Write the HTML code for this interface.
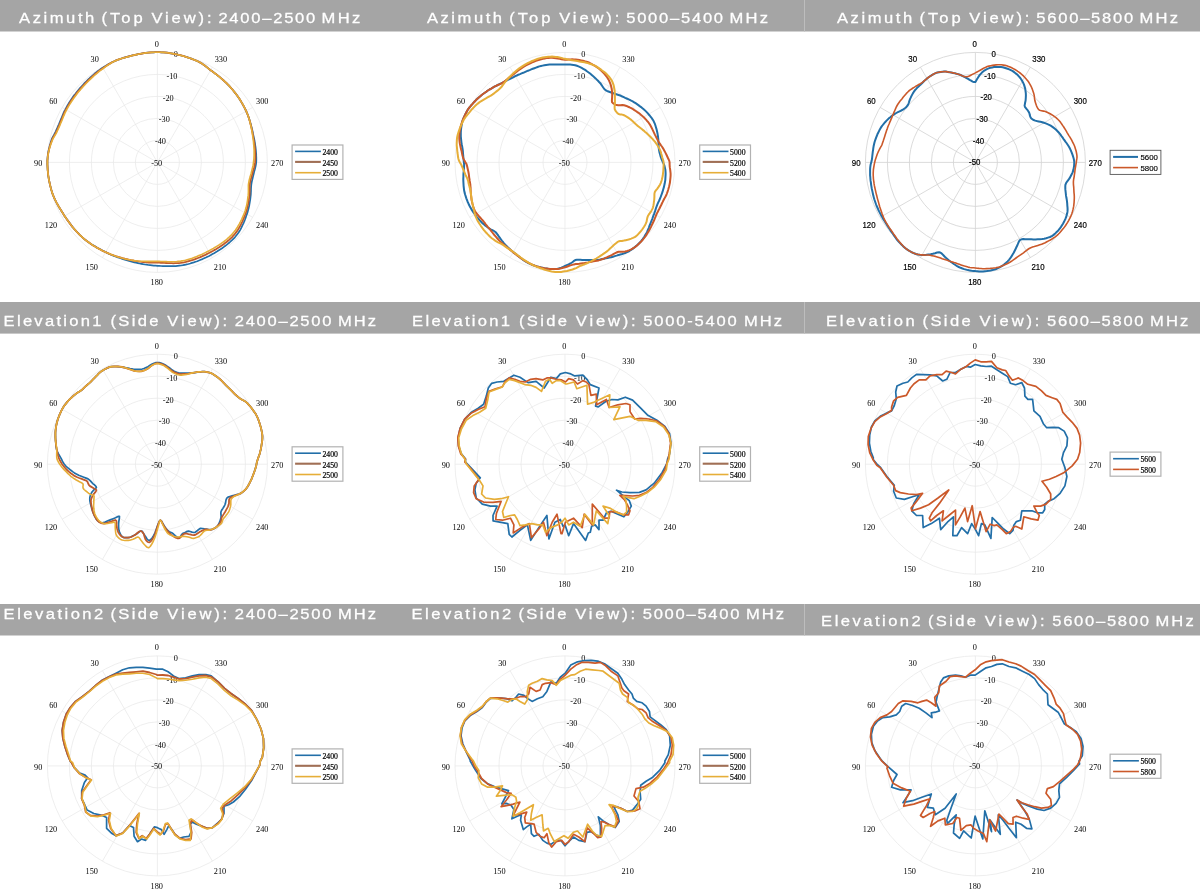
<!DOCTYPE html>
<html lang="en"><head><meta charset="utf-8">
<title>Antenna radiation patterns</title>
<style>html,body{margin:0;padding:0;background:#fff}body{width:1200px;height:892px;overflow:hidden}svg{display:block}#w{will-change:transform;width:1200px;height:892px}</style></head><body><div id="w">
<svg width="1200" height="892" viewBox="0 0 1200 892">
<rect width="1200" height="892" fill="#fff"/>
<rect x="0" y="0" width="1200" height="31.5" fill="#a5a5a5"/>
<rect x="804" y="0" width="1" height="31.5" fill="#bdbdbd"/>
<rect x="0" y="302" width="1200" height="31.6" fill="#a5a5a5"/>
<rect x="804" y="302" width="1" height="31.6" fill="#bdbdbd"/>
<rect x="0" y="604" width="1200" height="31.5" fill="#a5a5a5"/>
<rect x="804" y="604" width="1" height="31.5" fill="#bdbdbd"/>
<g font-family='"Liberation Sans", sans-serif' font-size="14.8" fill="#fff" stroke="#fff" stroke-width="0.28">
<text transform="translate(19.1 23.2) scale(1.12 1)" textLength="67.1" lengthAdjust="spacing">Azimuth</text>
<text transform="translate(101.5 23.2) scale(1.12 1)" textLength="36.8" lengthAdjust="spacing">(Top</text>
<text transform="translate(151.4 23.2) scale(1.12 1)" textLength="53.7" lengthAdjust="spacing">View):</text>
<text transform="translate(218.4 23.2) scale(1.12 1)" textLength="86.5" lengthAdjust="spacing">2400–2500</text>
<text transform="translate(321.6 23.2) scale(1.12 1)" textLength="34.5" lengthAdjust="spacing">MHz</text>
</g>
<g font-family='"Liberation Sans", sans-serif' font-size="14.8" fill="#fff" stroke="#fff" stroke-width="0.28">
<text transform="translate(426.9 23.2) scale(1.12 1)" textLength="67.1" lengthAdjust="spacing">Azimuth</text>
<text transform="translate(509.3 23.2) scale(1.12 1)" textLength="36.8" lengthAdjust="spacing">(Top</text>
<text transform="translate(559.2 23.2) scale(1.12 1)" textLength="53.7" lengthAdjust="spacing">View):</text>
<text transform="translate(626.2 23.2) scale(1.12 1)" textLength="86.5" lengthAdjust="spacing">5000–5400</text>
<text transform="translate(729.4 23.2) scale(1.12 1)" textLength="34.5" lengthAdjust="spacing">MHz</text>
</g>
<g font-family='"Liberation Sans", sans-serif' font-size="14.8" fill="#fff" stroke="#fff" stroke-width="0.28">
<text transform="translate(837 23.2) scale(1.12 1)" textLength="67.1" lengthAdjust="spacing">Azimuth</text>
<text transform="translate(919.4 23.2) scale(1.12 1)" textLength="36.8" lengthAdjust="spacing">(Top</text>
<text transform="translate(969.3 23.2) scale(1.12 1)" textLength="53.7" lengthAdjust="spacing">View):</text>
<text transform="translate(1036.3 23.2) scale(1.12 1)" textLength="86.5" lengthAdjust="spacing">5600–5800</text>
<text transform="translate(1139.5 23.2) scale(1.12 1)" textLength="34.5" lengthAdjust="spacing">MHz</text>
</g>
<g font-family='"Liberation Sans", sans-serif' font-size="14.8" fill="#fff" stroke="#fff" stroke-width="0.28">
<text transform="translate(3.6 326.2) scale(1.12 1)" textLength="87.4" lengthAdjust="spacing">Elevation1</text>
<text transform="translate(110.4 326.2) scale(1.12 1)" textLength="42.9" lengthAdjust="spacing">(Side</text>
<text transform="translate(167.3 326.2) scale(1.12 1)" textLength="53.5" lengthAdjust="spacing">View):</text>
<text transform="translate(234.8 326.2) scale(1.12 1)" textLength="86.2" lengthAdjust="spacing">2400–2500</text>
<text transform="translate(337.9 326.2) scale(1.12 1)" textLength="34.1" lengthAdjust="spacing">MHz</text>
</g>
<g font-family='"Liberation Sans", sans-serif' font-size="14.8" fill="#fff" stroke="#fff" stroke-width="0.28">
<text transform="translate(412.1 326.2) scale(1.12 1)" textLength="87.4" lengthAdjust="spacing">Elevation1</text>
<text transform="translate(519 326.2) scale(1.12 1)" textLength="42.9" lengthAdjust="spacing">(Side</text>
<text transform="translate(575.8 326.2) scale(1.12 1)" textLength="53.5" lengthAdjust="spacing">View):</text>
<text transform="translate(643.3 326.2) scale(1.12 1)" textLength="83.4" lengthAdjust="spacing">5000-5400</text>
<text transform="translate(743.9 326.2) scale(1.12 1)" textLength="34.1" lengthAdjust="spacing">MHz</text>
</g>
<g font-family='"Liberation Sans", sans-serif' font-size="14.8" fill="#fff" stroke="#fff" stroke-width="0.28">
<text transform="translate(826.1 326.2) scale(1.12 1)" textLength="79.1" lengthAdjust="spacing">Elevation</text>
<text transform="translate(922.6 326.2) scale(1.12 1)" textLength="42.9" lengthAdjust="spacing">(Side</text>
<text transform="translate(979.5 326.2) scale(1.12 1)" textLength="53.5" lengthAdjust="spacing">View):</text>
<text transform="translate(1047 326.2) scale(1.12 1)" textLength="86.2" lengthAdjust="spacing">5600–5800</text>
<text transform="translate(1150.1 326.2) scale(1.12 1)" textLength="34.1" lengthAdjust="spacing">MHz</text>
</g>
<g font-family='"Liberation Sans", sans-serif' font-size="14.8" fill="#fff" stroke="#fff" stroke-width="0.28">
<text transform="translate(3.6 618.5) scale(1.12 1)" textLength="89" lengthAdjust="spacing">Elevation2</text>
<text transform="translate(110.4 618.5) scale(1.12 1)" textLength="42.9" lengthAdjust="spacing">(Side</text>
<text transform="translate(167.3 618.5) scale(1.12 1)" textLength="53.5" lengthAdjust="spacing">View):</text>
<text transform="translate(234.8 618.5) scale(1.12 1)" textLength="86.2" lengthAdjust="spacing">2400–2500</text>
<text transform="translate(337.9 618.5) scale(1.12 1)" textLength="34.1" lengthAdjust="spacing">MHz</text>
</g>
<g font-family='"Liberation Sans", sans-serif' font-size="14.8" fill="#fff" stroke="#fff" stroke-width="0.28">
<text transform="translate(411.5 618.5) scale(1.12 1)" textLength="89" lengthAdjust="spacing">Elevation2</text>
<text transform="translate(518.4 618.5) scale(1.12 1)" textLength="42.9" lengthAdjust="spacing">(Side</text>
<text transform="translate(575.2 618.5) scale(1.12 1)" textLength="53.5" lengthAdjust="spacing">View):</text>
<text transform="translate(642.8 618.5) scale(1.12 1)" textLength="86.2" lengthAdjust="spacing">5000–5400</text>
<text transform="translate(745.9 618.5) scale(1.12 1)" textLength="34.1" lengthAdjust="spacing">MHz</text>
</g>
<g font-family='"Liberation Sans", sans-serif' font-size="14.8" fill="#fff" stroke="#fff" stroke-width="0.28">
<text transform="translate(821.1 625.8) scale(1.12 1)" textLength="89" lengthAdjust="spacing">Elevation2</text>
<text transform="translate(928 625.8) scale(1.12 1)" textLength="42.9" lengthAdjust="spacing">(Side</text>
<text transform="translate(984.8 625.8) scale(1.12 1)" textLength="53.5" lengthAdjust="spacing">View):</text>
<text transform="translate(1052.3 625.8) scale(1.12 1)" textLength="86.2" lengthAdjust="spacing">5600–5800</text>
<text transform="translate(1155.5 625.8) scale(1.12 1)" textLength="34.1" lengthAdjust="spacing">MHz</text>
</g>
<g>
<g fill="none" stroke="#e6e6e6" stroke-width="0.7">
<circle cx="157.4" cy="162.4" r="22"/>
<circle cx="157.4" cy="162.4" r="44"/>
<circle cx="157.4" cy="162.4" r="66"/>
<circle cx="157.4" cy="162.4" r="88"/>
<circle cx="157.4" cy="162.4" r="110"/>
<line x1="157.4" y1="52.4" x2="157.4" y2="272.4"/>
<line x1="102.4" y1="67.1" x2="212.4" y2="257.7"/>
<line x1="62.1" y1="107.4" x2="252.7" y2="217.4"/>
<line x1="47.4" y1="162.4" x2="267.4" y2="162.4"/>
<line x1="62.1" y1="217.4" x2="252.7" y2="107.4"/>
<line x1="102.4" y1="257.7" x2="212.4" y2="67.1"/>
</g>
<text transform="translate(156.8 46.9) scale(0.92 1)" text-anchor="middle" font-family='"Liberation Serif", serif' font-size="9.0" fill="#050505">0</text>
<text transform="translate(94.7 62.3) scale(0.92 1)" text-anchor="middle" font-family='"Liberation Serif", serif' font-size="9.0" fill="#050505">30</text>
<text transform="translate(53.3 104) scale(0.92 1)" text-anchor="middle" font-family='"Liberation Serif", serif' font-size="9.0" fill="#050505">60</text>
<text transform="translate(38.2 166.1) scale(0.92 1)" text-anchor="middle" font-family='"Liberation Serif", serif' font-size="9.0" fill="#050505">90</text>
<text transform="translate(51 228.4) scale(0.92 1)" text-anchor="middle" font-family='"Liberation Serif", serif' font-size="9.0" fill="#050505">120</text>
<text transform="translate(91.8 270.2) scale(0.92 1)" text-anchor="middle" font-family='"Liberation Serif", serif' font-size="9.0" fill="#050505">150</text>
<text transform="translate(156.8 285.3) scale(0.92 1)" text-anchor="middle" font-family='"Liberation Serif", serif' font-size="9.0" fill="#050505">180</text>
<text transform="translate(220 270.2) scale(0.92 1)" text-anchor="middle" font-family='"Liberation Serif", serif' font-size="9.0" fill="#050505">210</text>
<text transform="translate(262.3 228.4) scale(0.92 1)" text-anchor="middle" font-family='"Liberation Serif", serif' font-size="9.0" fill="#050505">240</text>
<text transform="translate(277.2 166.1) scale(0.92 1)" text-anchor="middle" font-family='"Liberation Serif", serif' font-size="9.0" fill="#050505">270</text>
<text transform="translate(262.3 104) scale(0.92 1)" text-anchor="middle" font-family='"Liberation Serif", serif' font-size="9.0" fill="#050505">300</text>
<text transform="translate(220.9 62.3) scale(0.92 1)" text-anchor="middle" font-family='"Liberation Serif", serif' font-size="9.0" fill="#050505">330</text>
<text transform="translate(156.7 165.7) scale(0.92 1)" text-anchor="middle" font-family='"Liberation Serif", serif' font-size="9.0" fill="#050505">-50</text>
<text transform="translate(160.5 144) scale(0.92 1)" text-anchor="middle" font-family='"Liberation Serif", serif' font-size="9.0" fill="#050505">-40</text>
<text transform="translate(164.3 122.3) scale(0.92 1)" text-anchor="middle" font-family='"Liberation Serif", serif' font-size="9.0" fill="#050505">-30</text>
<text transform="translate(168.2 100.7) scale(0.92 1)" text-anchor="middle" font-family='"Liberation Serif", serif' font-size="9.0" fill="#050505">-20</text>
<text transform="translate(172 79) scale(0.92 1)" text-anchor="middle" font-family='"Liberation Serif", serif' font-size="9.0" fill="#050505">-10</text>
<text transform="translate(175.8 57.3) scale(0.92 1)" text-anchor="middle" font-family='"Liberation Serif", serif' font-size="9.0" fill="#050505">0</text>
<g fill="none" stroke-linejoin="round">
<path stroke="#226fa8" stroke-width="1.7" d="M157.4 52.2L155.5 52.2L153.6 52.3L151.6 52.4L149.7 52.5L147.8 52.7L145.9 52.9L144 53.2L142.1 53.5L140.2 53.8L138.3 54.2L136.4 54.6L134.6 55L132.7 55.4L130.8 55.9L129 56.4L127.1 56.9L125.3 57.4L123.4 57.9L121.6 58.5L119.8 59.1L118 59.7L116.2 60.4L114.4 61.2L112.7 62L111 62.8L109.3 63.7L107.6 64.7L106 65.7L104.3 66.7L102.7 67.7L101.1 68.8L99.6 69.9L98 71L96.5 72.2L95 73.3L93.6 74.6L92.2 75.8L90.7 77.1L89.4 78.4L88 79.7L86.7 81L85.3 82.4L84 83.7L82.8 85.1L81.5 86.5L80.2 87.9L79 89.3L77.8 90.7L76.6 92.2L75.5 93.7L74.3 95.1L73.2 96.6L72.1 98.2L71.1 99.7L70.1 101.2L69.1 102.8L68.1 104.4L67.2 106L66.3 107.6L65.4 109.3L64.5 110.9L63.7 112.6L63 114.3L62.3 116L61.6 117.7L60.9 119.4L60.2 121.1L59.5 122.8L58.8 124.5L58 126.2L57.3 127.9L56.5 129.6L55.8 131.3L55 133L54.1 134.7L53.1 136.4L52.2 138.1L51.5 139.9L50.9 141.7L50.4 143.5L49.8 145.4L49.4 147.2L48.9 149.1L48.5 151L48.2 152.8L47.9 154.7L47.7 156.7L47.5 158.6L47.4 160.5L47.4 162.4L47.4 164.3L47.5 166.2L47.6 168.2L47.7 170.1L47.9 172L48.1 173.9L48.3 175.8L48.6 177.7L48.9 179.6L49.3 181.5L49.7 183.3L50.1 185.2L50.6 187.1L51 188.9L51.6 190.8L52.1 192.6L52.8 194.4L53.5 196.2L54.2 197.9L55 199.7L55.9 201.4L56.8 203.1L57.7 204.7L58.6 206.4L59.6 208L60.6 209.6L61.6 211.2L62.6 212.8L63.6 214.4L64.6 216L65.6 217.5L66.7 219.1L67.8 220.6L68.9 222.1L70 223.6L71.1 225.1L72.2 226.6L73.4 228L74.6 229.4L75.9 230.8L77.1 232.2L78.4 233.5L79.7 234.8L81.1 236.1L82.4 237.4L83.8 238.6L85.2 239.8L86.7 240.9L88.2 242L89.7 243.1L91.2 244.1L92.8 245.1L94.4 246L96 247L97.5 247.9L99.1 248.8L100.7 249.6L102.4 250.5L104 251.3L105.6 252.1L107.2 252.9L108.8 253.7L110.5 254.5L112.2 255.2L113.8 255.9L115.5 256.5L117.2 257.1L118.9 257.8L120.6 258.3L122.3 258.9L124 259.4L125.7 260L127.4 260.5L129.1 261L130.9 261.4L132.6 261.9L134.3 262.3L136.1 262.7L137.8 263.1L139.6 263.5L141.3 263.8L143.1 264.2L144.9 264.5L146.6 264.7L148.4 265L150.2 265.2L152 265.4L153.8 265.6L155.6 265.7L157.4 265.8L159.2 265.9L161 266L162.8 266.1L164.7 266.1L166.5 266.2L168.3 266.2L170.1 266.2L172 266.2L173.8 266.2L175.7 266.1L177.5 265.9L179.4 265.7L181.2 265.5L183 265.2L184.8 264.8L186.7 264.4L188.5 264L190.2 263.5L192 262.9L193.8 262.4L195.6 261.8L197.3 261.2L199 260.5L200.8 259.8L202.5 259.1L204.2 258.3L205.9 257.5L207.5 256.7L209.2 255.9L210.9 255L212.5 254.1L214.1 253.2L215.7 252.2L217.3 251.3L218.9 250.3L220.5 249.3L222.1 248.2L223.6 247.1L225.1 246L226.6 244.9L228.1 243.7L229.5 242.5L230.9 241.2L232.3 239.9L233.6 238.6L234.9 237.3L236.1 235.8L237.3 234.3L238.4 232.8L239.4 231.2L240.4 229.6L241.3 227.9L242.1 226.2L242.9 224.5L243.7 222.8L244.4 221.1L245.1 219.3L245.7 217.6L246.3 215.8L246.9 214.1L247.5 212.4L248 210.6L248.5 208.8L248.9 207L249.3 205.2L249.6 203.4L249.9 201.7L250.2 199.9L250.4 198.1L250.6 196.3L250.8 194.6L250.9 192.8L251 191L251 189.2L251.1 187.5L251.2 185.8L251.4 184.1L251.7 182.4L252 180.8L252.4 179.2L252.8 177.5L253.2 175.9L253.6 174.2L254 172.6L254.4 170.9L254.9 169.2L255.3 167.5L255.7 165.8L256 164.1L256.2 162.4L256.3 160.7L256.3 158.9L256.3 157.2L256.2 155.5L256.2 153.8L256 152L255.9 150.3L255.7 148.6L255.5 146.9L255.2 145.1L255 143.4L254.7 141.7L254.4 140L254 138.3L253.7 136.6L253.3 134.9L252.9 133.2L252.6 131.5L252.2 129.8L251.8 128.1L251.3 126.3L250.9 124.6L250.4 122.9L249.9 121.2L249.4 119.5L248.8 117.8L248.2 116.1L247.6 114.4L246.9 112.8L246.2 111.1L245.4 109.5L244.6 107.9L243.8 106.3L242.9 104.7L242 103.1L241.1 101.6L240.1 100L239.2 98.5L238.1 97L237.1 95.5L236 94L234.9 92.6L233.8 91.2L232.6 89.7L231.4 88.4L230.2 87L229 85.6L227.7 84.3L226.4 83L225.1 81.8L223.7 80.5L222.3 79.3L220.9 78.1L219.5 76.9L218.1 75.8L216.6 74.6L215.1 73.5L213.7 72.4L212.2 71.3L210.6 70.2L209.1 69.1L207.7 67.9L206.2 66.7L204.7 65.5L203.1 64.4L201.5 63.3L199.9 62.4L198.2 61.5L196.4 60.7L194.7 60L192.9 59.3L191.1 58.6L189.3 58L187.5 57.4L185.7 56.8L183.9 56.2L182 55.7L180.2 55.2L178.3 54.8L176.5 54.3L174.6 54L172.7 53.6L170.8 53.3L168.9 53L167 52.7L165.1 52.5L163.2 52.4L161.2 52.3L159.3 52.2L157.4 52.2Z"/>
<path stroke="#c05a2c" stroke-width="1.8" d="M157.4 52.2L155.5 52.2L153.6 52.3L151.6 52.4L149.7 52.5L147.8 52.7L145.9 52.9L144 53.2L142.1 53.5L140.2 53.8L138.3 54.2L136.4 54.6L134.6 55L132.7 55.4L130.8 55.9L129 56.4L127.1 56.9L125.3 57.4L123.4 57.9L121.6 58.5L119.8 59.1L118 59.7L116.2 60.4L114.4 61.2L112.7 62L111 62.9L109.4 63.9L107.7 64.9L106.1 66L104.5 67L103 68.1L101.4 69.2L99.8 70.3L98.3 71.4L96.8 72.6L95.4 73.8L93.9 75.1L92.5 76.3L91.1 77.6L89.8 78.9L88.4 80.2L87.1 81.5L85.8 82.8L84.5 84.2L83.2 85.6L82 87L80.7 88.3L79.5 89.8L78.3 91.2L77.1 92.6L76 94.1L74.9 95.6L73.8 97L72.7 98.6L71.6 100.1L70.6 101.6L69.6 103.2L68.7 104.8L67.7 106.4L66.8 108L65.9 109.6L65.1 111.2L64.3 112.9L63.6 114.6L62.9 116.3L62.2 118L61.5 119.7L60.8 121.4L60.1 123.1L59.4 124.8L58.7 126.5L57.9 128.1L57.2 129.8L56.4 131.5L55.6 133.2L54.6 134.9L53.7 136.5L52.7 138.2L52 140L51.3 141.8L50.7 143.6L50.1 145.4L49.6 147.2L49.1 149.1L48.7 151L48.3 152.9L48 154.7L47.7 156.7L47.6 158.6L47.4 160.5L47.4 162.4L47.4 164.3L47.5 166.2L47.6 168.2L47.7 170.1L47.9 172L48.1 173.9L48.3 175.8L48.6 177.7L48.9 179.6L49.3 181.5L49.7 183.3L50.1 185.2L50.6 187.1L51 188.9L51.6 190.8L52.1 192.6L52.8 194.4L53.5 196.2L54.2 197.9L55 199.7L55.9 201.4L56.8 203.1L57.7 204.7L58.6 206.4L59.6 208L60.6 209.6L61.6 211.2L62.6 212.8L63.6 214.4L64.6 216L65.6 217.5L66.7 219.1L67.8 220.6L68.9 222.1L70 223.6L71.1 225.1L72.2 226.6L73.4 228L74.6 229.4L75.9 230.8L77.1 232.2L78.4 233.5L79.7 234.8L81.1 236.1L82.4 237.4L83.8 238.6L85.2 239.8L86.7 240.9L88.2 242L89.7 243.1L91.2 244.2L92.7 245.2L94.3 246.1L95.9 247.1L97.5 248L99.1 248.9L100.7 249.7L102.3 250.6L103.9 251.4L105.6 252.1L107.2 252.9L108.9 253.6L110.6 254.3L112.3 254.9L114 255.5L115.7 256.1L117.4 256.6L119.1 257.1L120.8 257.6L122.6 258.1L124.3 258.5L126 259L127.8 259.4L129.5 259.8L131.2 260.2L132.9 260.5L134.7 260.8L136.4 261.1L138.2 261.4L139.9 261.6L141.6 261.9L143.4 262.1L145.1 262.2L146.9 262.4L148.6 262.5L150.4 262.6L152.1 262.6L153.9 262.7L155.6 262.7L157.4 262.7L159.2 262.7L160.9 262.8L162.7 262.9L164.4 262.9L166.2 263L168 263.1L169.8 263.2L171.6 263.2L173.4 263.3L175.2 263.2L177 263.2L178.8 263.1L180.6 262.9L182.4 262.6L184.2 262.3L185.9 261.9L187.7 261.4L189.4 261L191.2 260.4L192.9 259.9L194.6 259.3L196.3 258.7L198 258L199.7 257.4L201.4 256.7L203 255.9L204.7 255.2L206.3 254.4L207.9 253.5L209.5 252.7L211.1 251.9L212.8 251L214.3 250.1L215.9 249.2L217.5 248.2L219.1 247.3L220.6 246.3L222.1 245.2L223.6 244.2L225.1 243.1L226.6 242L228 240.8L229.4 239.6L230.7 238.4L232.1 237.1L233.3 235.7L234.6 234.3L235.7 232.9L236.8 231.4L237.8 229.9L238.8 228.3L239.7 226.7L240.6 225.1L241.4 223.4L242.2 221.8L242.9 220.1L243.7 218.4L244.3 216.7L245 215L245.6 213.3L246.2 211.6L246.7 209.9L247.2 208.2L247.6 206.4L248 204.7L248.4 202.9L248.7 201.1L248.9 199.4L249.2 197.6L249.4 195.9L249.6 194.1L249.6 192.4L249.7 190.6L249.7 188.9L249.7 187.1L249.7 185.4L249.9 183.8L250.1 182.1L250.5 180.5L250.9 178.9L251.4 177.3L251.8 175.7L252.3 174L252.7 172.4L253.1 170.8L253.6 169.1L254.1 167.5L254.5 165.8L254.8 164.1L255.1 162.4L255.2 160.7L255.3 159L255.4 157.3L255.4 155.6L255.3 153.8L255.2 152.1L255.1 150.4L255 148.7L254.8 147L254.6 145.3L254.4 143.6L254.1 141.8L253.8 140.1L253.5 138.4L253.2 136.7L252.9 135L252.6 133.3L252.3 131.6L251.9 129.9L251.5 128.1L251.2 126.4L250.7 124.7L250.3 123L249.8 121.2L249.3 119.5L248.8 117.8L248.2 116.1L247.6 114.5L246.9 112.8L246.2 111.1L245.4 109.5L244.6 107.9L243.8 106.3L242.9 104.7L242 103.1L241.1 101.6L240.2 100L239.2 98.5L238.2 97L237.1 95.5L236 94L234.9 92.6L233.8 91.2L232.6 89.7L231.4 88.4L230.2 87L229 85.6L227.7 84.3L226.4 83L225.1 81.8L223.7 80.5L222.3 79.3L220.9 78.1L219.5 76.9L218.1 75.8L216.6 74.6L215.1 73.5L213.7 72.4L212.2 71.3L210.6 70.2L209.1 69.1L207.7 67.9L206.2 66.7L204.7 65.5L203.1 64.4L201.5 63.3L199.9 62.4L198.2 61.5L196.4 60.7L194.7 60L192.9 59.3L191.1 58.6L189.3 58L187.5 57.4L185.7 56.8L183.9 56.2L182 55.7L180.2 55.2L178.3 54.8L176.5 54.3L174.6 54L172.7 53.6L170.8 53.3L168.9 53L167 52.7L165.1 52.5L163.2 52.4L161.2 52.3L159.3 52.2L157.4 52.2Z"/>
<path stroke="#e6ae38" stroke-width="1.6" d="M157.4 52.2L155.5 52.2L153.6 52.3L151.6 52.4L149.7 52.5L147.8 52.7L145.9 52.9L144 53.2L142.1 53.5L140.2 53.8L138.3 54.2L136.4 54.6L134.6 55L132.7 55.4L130.8 55.9L129 56.4L127.1 56.9L125.3 57.4L123.4 57.9L121.6 58.5L119.8 59.1L118 59.7L116.2 60.4L114.4 61.2L112.7 62.1L111.1 63L109.4 64.1L107.8 65.1L106.3 66.2L104.7 67.4L103.2 68.5L101.6 69.6L100.1 70.7L98.6 71.9L97.2 73.1L95.7 74.3L94.3 75.5L92.9 76.8L91.5 78.1L90.2 79.4L88.8 80.7L87.5 82L86.2 83.3L84.9 84.7L83.7 86L82.4 87.4L81.2 88.8L80 90.2L78.8 91.6L77.6 93.1L76.5 94.5L75.4 96L74.3 97.5L73.2 99L72.2 100.5L71.2 102L70.2 103.6L69.2 105.1L68.3 106.7L67.4 108.3L66.5 109.9L65.7 111.6L64.9 113.2L64.2 114.9L63.4 116.6L62.8 118.3L62.1 120L61.4 121.6L60.7 123.3L60 125L59.3 126.7L58.5 128.4L57.8 130L57 131.7L56.2 133.4L55.2 135L54.2 136.7L53.2 138.3L52.4 140.1L51.7 141.9L51 143.6L50.4 145.5L49.8 147.3L49.3 149.1L48.8 151L48.4 152.9L48.1 154.8L47.8 156.7L47.6 158.6L47.4 160.5L47.4 162.4L47.4 164.3L47.5 166.2L47.6 168.2L47.7 170.1L47.9 172L48.1 173.9L48.3 175.8L48.6 177.7L48.9 179.6L49.3 181.5L49.7 183.3L50.1 185.2L50.6 187.1L51 188.9L51.6 190.8L52.1 192.6L52.8 194.4L53.5 196.2L54.2 197.9L55 199.7L55.9 201.4L56.8 203.1L57.7 204.7L58.6 206.4L59.6 208L60.6 209.6L61.6 211.2L62.6 212.8L63.6 214.4L64.6 216L65.6 217.5L66.7 219.1L67.8 220.6L68.9 222.1L70 223.6L71.1 225.1L72.2 226.6L73.4 228L74.6 229.4L75.9 230.8L77.1 232.2L78.4 233.5L79.7 234.8L81.1 236.1L82.4 237.4L83.8 238.6L85.2 239.8L86.7 240.9L88.2 242L89.7 243.1L91.2 244.2L92.7 245.2L94.3 246.1L95.9 247.1L97.5 248L99.1 248.9L100.7 249.7L102.3 250.6L103.9 251.4L105.6 252.1L107.2 252.9L108.9 253.6L110.6 254.3L112.3 254.9L114 255.6L115.7 256.2L117.4 256.7L119.1 257.3L120.8 257.8L122.5 258.2L124.2 258.7L126 259.1L127.7 259.5L129.5 259.8L131.2 260.2L133 260.4L134.7 260.7L136.5 260.9L138.2 261L140 261.2L141.7 261.3L143.5 261.3L145.2 261.4L147 261.4L148.7 261.4L150.5 261.4L152.2 261.4L153.9 261.4L155.7 261.4L157.4 261.4L159.1 261.4L160.9 261.5L162.6 261.5L164.3 261.6L166.1 261.6L167.8 261.7L169.6 261.7L171.4 261.7L173.1 261.7L174.9 261.7L176.7 261.6L178.4 261.4L180.2 261.2L182 260.9L183.7 260.6L185.4 260.2L187.2 259.7L188.9 259.2L190.6 258.7L192.3 258.2L193.9 257.6L195.6 256.9L197.3 256.3L198.9 255.6L200.5 254.9L202.2 254.2L203.8 253.4L205.4 252.6L207 251.8L208.6 251L210.1 250.1L211.7 249.3L213.3 248.4L214.8 247.5L216.3 246.6L217.9 245.6L219.4 244.7L220.9 243.7L222.4 242.6L223.8 241.6L225.3 240.5L226.7 239.3L228 238.1L229.4 236.9L230.7 235.7L231.9 234.4L233.1 233L234.3 231.6L235.4 230.2L236.4 228.7L237.4 227.2L238.3 225.6L239.2 224.1L240.1 222.5L240.9 220.9L241.7 219.3L242.4 217.6L243.1 216L243.8 214.3L244.5 212.7L245.1 211L245.6 209.3L246.1 207.6L246.5 205.9L246.9 204.1L247.2 202.4L247.5 200.6L247.7 198.9L247.9 197.2L248.2 195.4L248.3 193.7L248.4 192L248.4 190.2L248.4 188.5L248.4 186.8L248.4 185.1L248.6 183.5L248.9 181.8L249.2 180.2L249.6 178.7L250.1 177.1L250.5 175.5L251 173.9L251.4 172.3L251.8 170.7L252.2 169L252.6 167.4L253 165.7L253.3 164.1L253.5 162.4L253.7 160.7L253.9 159L254 157.3L254.1 155.6L254.1 153.9L254.1 152.2L254.1 150.5L254 148.8L253.9 147.1L253.8 145.4L253.6 143.7L253.5 142L253.3 140.3L253.1 138.6L252.8 136.8L252.6 135.1L252.3 133.4L252 131.7L251.7 129.9L251.4 128.2L251 126.5L250.6 124.7L250.2 123L249.8 121.3L249.3 119.6L248.7 117.8L248.2 116.1L247.6 114.5L246.9 112.8L246.2 111.1L245.4 109.5L244.6 107.9L243.8 106.3L243 104.7L242.1 103.1L241.1 101.6L240.2 100L239.2 98.5L238.2 97L237.1 95.5L236 94L234.9 92.6L233.8 91.2L232.6 89.7L231.4 88.4L230.2 87L229 85.6L227.7 84.3L226.4 83L225.1 81.8L223.7 80.5L222.3 79.3L220.9 78.1L219.5 76.9L218.1 75.8L216.6 74.6L215.1 73.5L213.7 72.4L212.2 71.3L210.6 70.2L209.1 69.1L207.7 67.9L206.2 66.7L204.7 65.5L203.1 64.4L201.5 63.3L199.9 62.4L198.2 61.5L196.4 60.7L194.7 60L192.9 59.3L191.1 58.6L189.3 58L187.5 57.4L185.7 56.8L183.9 56.2L182 55.7L180.2 55.2L178.3 54.8L176.5 54.3L174.6 54L172.7 53.6L170.8 53.3L168.9 53L167 52.7L165.1 52.5L163.2 52.4L161.2 52.3L159.3 52.2L157.4 52.2Z"/>
</g>
<rect x="292.1" y="145" width="50.8" height="34.4" fill="#fff" stroke="#b2b2b2" stroke-width="1.2"/>
<line x1="295.1" y1="151.4" x2="320.9" y2="151.4" stroke="#226fa8" stroke-width="1.6"/>
<text transform="translate(322.5 154.8) scale(0.9 1)" text-anchor="start" font-family='"Liberation Serif", serif' font-size="8.6" fill="#000" stroke="#000" stroke-width="0.2">2400</text>
<line x1="295.1" y1="161.9" x2="320.9" y2="161.9" stroke="#a06f55" stroke-width="2.1"/>
<text transform="translate(322.5 165.9) scale(0.9 1)" text-anchor="start" font-family='"Liberation Serif", serif' font-size="8.6" fill="#000" stroke="#000" stroke-width="0.2">2450</text>
<line x1="295.1" y1="172.7" x2="320.9" y2="172.7" stroke="#e6ae38" stroke-width="1.6"/>
<text transform="translate(322.5 175.7) scale(0.9 1)" text-anchor="start" font-family='"Liberation Serif", serif' font-size="8.6" fill="#000" stroke="#000" stroke-width="0.2">2500</text>
</g>
<g>
<g fill="none" stroke="#e6e6e6" stroke-width="0.7">
<circle cx="565" cy="162.4" r="22"/>
<circle cx="565" cy="162.4" r="44"/>
<circle cx="565" cy="162.4" r="66"/>
<circle cx="565" cy="162.4" r="88"/>
<circle cx="565" cy="162.4" r="110"/>
<line x1="565" y1="52.4" x2="565" y2="272.4"/>
<line x1="510" y1="67.1" x2="620" y2="257.7"/>
<line x1="469.7" y1="107.4" x2="660.3" y2="217.4"/>
<line x1="455" y1="162.4" x2="675" y2="162.4"/>
<line x1="469.7" y1="217.4" x2="660.3" y2="107.4"/>
<line x1="510" y1="257.7" x2="620" y2="67.1"/>
</g>
<text transform="translate(564.4 46.9) scale(0.92 1)" text-anchor="middle" font-family='"Liberation Serif", serif' font-size="9.0" fill="#050505">0</text>
<text transform="translate(502.3 62.3) scale(0.92 1)" text-anchor="middle" font-family='"Liberation Serif", serif' font-size="9.0" fill="#050505">30</text>
<text transform="translate(460.9 104) scale(0.92 1)" text-anchor="middle" font-family='"Liberation Serif", serif' font-size="9.0" fill="#050505">60</text>
<text transform="translate(445.8 166.1) scale(0.92 1)" text-anchor="middle" font-family='"Liberation Serif", serif' font-size="9.0" fill="#050505">90</text>
<text transform="translate(458.6 228.4) scale(0.92 1)" text-anchor="middle" font-family='"Liberation Serif", serif' font-size="9.0" fill="#050505">120</text>
<text transform="translate(499.4 270.2) scale(0.92 1)" text-anchor="middle" font-family='"Liberation Serif", serif' font-size="9.0" fill="#050505">150</text>
<text transform="translate(564.4 285.3) scale(0.92 1)" text-anchor="middle" font-family='"Liberation Serif", serif' font-size="9.0" fill="#050505">180</text>
<text transform="translate(627.6 270.2) scale(0.92 1)" text-anchor="middle" font-family='"Liberation Serif", serif' font-size="9.0" fill="#050505">210</text>
<text transform="translate(669.9 228.4) scale(0.92 1)" text-anchor="middle" font-family='"Liberation Serif", serif' font-size="9.0" fill="#050505">240</text>
<text transform="translate(684.8 166.1) scale(0.92 1)" text-anchor="middle" font-family='"Liberation Serif", serif' font-size="9.0" fill="#050505">270</text>
<text transform="translate(669.9 104) scale(0.92 1)" text-anchor="middle" font-family='"Liberation Serif", serif' font-size="9.0" fill="#050505">300</text>
<text transform="translate(628.5 62.3) scale(0.92 1)" text-anchor="middle" font-family='"Liberation Serif", serif' font-size="9.0" fill="#050505">330</text>
<text transform="translate(564.3 165.7) scale(0.92 1)" text-anchor="middle" font-family='"Liberation Serif", serif' font-size="9.0" fill="#050505">-50</text>
<text transform="translate(568.1 144) scale(0.92 1)" text-anchor="middle" font-family='"Liberation Serif", serif' font-size="9.0" fill="#050505">-40</text>
<text transform="translate(571.9 122.3) scale(0.92 1)" text-anchor="middle" font-family='"Liberation Serif", serif' font-size="9.0" fill="#050505">-30</text>
<text transform="translate(575.8 100.7) scale(0.92 1)" text-anchor="middle" font-family='"Liberation Serif", serif' font-size="9.0" fill="#050505">-20</text>
<text transform="translate(579.6 79) scale(0.92 1)" text-anchor="middle" font-family='"Liberation Serif", serif' font-size="9.0" fill="#050505">-10</text>
<text transform="translate(583.4 57.3) scale(0.92 1)" text-anchor="middle" font-family='"Liberation Serif", serif' font-size="9.0" fill="#050505">0</text>
<g fill="none" stroke-linejoin="round">
<path stroke="#226fa8" stroke-width="2.0" d="M565 64.5L563.3 64.5L561.6 64.5L559.9 64.5L558.2 64.5L556.4 64.5L554.7 64.4L553 64.4L551.2 64.4L549.5 64.5L547.8 64.7L546.1 64.9L544.3 65.2L542.6 65.6L541 66L539.3 66.4L537.6 67L536 67.6L534.4 68.2L532.8 68.8L531.2 69.4L529.6 70.1L528 70.7L526.4 71.4L524.8 72.1L523.2 72.8L521.6 73.4L520 74.1L518.4 74.7L516.8 75.5L515.2 76.2L513.7 77L512.1 77.8L510.6 78.6L509 79.4L507.4 80.2L505.8 81L504.2 81.8L502.6 82.6L501 83.4L499.4 84.2L497.7 85L496.1 85.8L494.4 86.7L492.8 87.6L491.2 88.6L489.5 89.5L487.9 90.5L486.4 91.6L484.8 92.7L483.3 93.8L481.7 95L480.3 96.2L478.8 97.5L477.4 98.8L476 100.1L474.7 101.5L473.4 102.9L472.1 104.4L470.8 105.8L469.5 107.3L468.4 108.8L467.3 110.5L466.4 112.2L465.5 113.9L464.7 115.6L463.9 117.4L463.1 119.2L462.5 121L462.1 122.9L461.7 124.8L461.4 126.7L461.1 128.6L460.9 130.6L460.8 132.5L460.8 134.5L460.8 136.4L461 138.4L461.2 140.3L461.4 142.3L461.7 144.2L462.1 146.1L462.4 148L462.7 149.8L462.9 151.7L463 153.5L463.2 155.3L463.3 157.1L463.5 158.9L463.7 160.6L463.9 162.4L464.1 164.2L464.1 165.9L464 167.7L463.9 169.5L463.7 171.3L463.5 173.1L463.4 174.9L463.4 176.7L463.3 178.5L463.3 180.3L463.4 182.2L463.5 184L463.6 185.8L463.8 187.6L464 189.5L464.3 191.3L464.7 193.1L465.2 194.8L465.8 196.6L466.3 198.3L467 200L467.6 201.7L468.4 203.4L469.1 205.1L470 206.7L470.9 208.3L471.8 209.9L472.8 211.4L473.8 213L474.9 214.4L476 215.9L477.1 217.3L478.3 218.7L479.5 220.1L480.7 221.4L482 222.7L483.4 223.9L484.7 225.1L486.2 226.2L487.6 227.3L489.1 228.4L490.7 229.3L492.4 230.1L494 231L495.4 232L496.6 233.3L497.6 234.6L498.6 236.1L499.7 237.6L500.7 239L501.8 240.5L502.9 241.9L504 243.3L505.2 244.7L506.5 246L507.8 247.3L509.1 248.5L510.4 249.7L511.8 250.9L513.2 252.1L514.7 253.2L516.1 254.3L517.6 255.5L519 256.6L520.5 257.8L522 259L523.5 260.1L525.1 261.1L526.7 262.1L528.4 263L530.1 263.9L531.8 264.7L533.5 265.3L535.3 265.9L537.1 266.5L538.9 267L540.8 267.4L542.6 267.8L544.4 268.2L546.3 268.5L548.2 268.8L550 269L551.9 269.1L553.8 269L555.7 268.9L557.6 268.7L559.5 268.3L561.3 267.6L563.2 266.8L565 266L566.8 265.2L568.6 264.4L570.3 263.5L572 262.5L573.6 261.2L575.3 260.1L577 259.8L578.7 259.8L580.4 259.8L582.2 259.9L584 259.9L585.7 259.9L587.5 259.9L589.3 259.9L591.1 259.9L593 260L594.8 260L596.7 260L598.5 259.8L600.3 259.5L602.1 259.1L603.9 258.7L605.7 258.3L607.6 258L609.4 257.6L611.2 257.2L613 256.7L614.8 256.1L616.6 255.6L618.5 255L620.3 254.5L622.2 254L624.1 253.4L625.9 252.7L627.7 251.9L629.4 251L631 250L632.6 248.9L634.1 247.7L635.5 246.5L637 245.2L638.4 243.9L639.8 242.6L641.1 241.2L642.3 239.7L643.4 238.1L644.5 236.5L645.4 234.8L646.4 233.2L647.3 231.4L648 229.6L648.8 227.8L649.4 226L650.1 224.3L650.8 222.5L651.5 220.8L652.2 219L652.8 217.3L653.4 215.5L654.1 213.8L654.7 212.1L655.3 210.4L655.8 208.7L656.4 207L657 205.3L657.7 203.7L658.4 202.1L659.2 200.5L659.9 198.8L660.6 197.2L661.2 195.5L661.8 193.9L662.4 192.2L662.9 190.5L663.4 188.8L663.9 187.1L664.3 185.3L664.7 183.6L665 181.8L665.3 180.1L665.4 178.3L665.5 176.5L665.6 174.8L665.6 173L665.5 171.2L665.3 169.4L664.9 167.6L664.5 165.9L663.8 164.1L662.9 162.4L662.2 160.7L661.5 159L660.9 157.4L660.4 155.7L660 154.1L659.5 152.5L659.2 150.8L658.9 149.2L658.7 147.6L658.6 145.9L658.5 144.2L658.5 142.5L658.4 140.8L658.3 139.1L658.1 137.5L657.9 135.8L657.6 134.1L657.3 132.4L656.9 130.7L656.5 129.1L656 127.5L655.5 125.8L655 124.2L654.3 122.6L653.6 121.1L652.7 119.6L651.8 118.2L650.7 116.8L649.7 115.5L648.5 114.2L647.4 112.9L646.2 111.6L645 110.4L643.7 109.3L642.4 108.2L641.1 107.1L639.7 106.1L638.4 105.1L637 104.1L635.6 103.2L634.2 102.3L632.7 101.4L631.2 100.7L629.7 99.9L628.2 99.2L626.7 98.5L625.2 97.8L623.8 97.1L622.3 96.5L620.9 95.8L619.4 95.3L617.8 94.8L616.3 94.3L614.8 93.8L613.4 93.3L612 92.8L610.5 92.3L609.1 91.8L607.7 91.3L606.4 90.7L605.2 89.9L604.1 88.8L603.2 87.5L602.2 86L601.3 84.6L600.3 83.2L599.1 82L598 80.8L596.8 79.6L595.6 78.4L594.3 77.2L593 76.1L591.7 74.9L590.4 73.8L589 72.7L587.6 71.7L586.2 70.7L584.7 69.7L583.2 68.8L581.7 67.9L580.1 67.1L578.5 66.4L576.9 65.8L575.2 65.2L573.5 64.9L571.8 64.7L570.1 64.6L568.4 64.6L566.7 64.5L565 64.5Z"/>
<path stroke="#cb592a" stroke-width="2.0" d="M565 59.8L563.2 59.6L561.4 59.2L559.6 58.8L557.7 58.4L555.9 58.2L554 57.9L552.1 57.7L550.3 57.7L548.4 57.9L546.6 58.1L544.8 58.4L543 58.8L541.2 59.2L539.4 59.7L537.6 60.2L535.9 60.8L534.2 61.5L532.4 62.2L530.8 63L529.1 63.8L527.5 64.6L525.9 65.5L524.3 66.5L522.7 67.4L521.2 68.4L519.7 69.5L518.2 70.5L516.7 71.6L515.3 72.7L513.9 73.9L512.5 75L511.1 76.2L509.7 77.3L508.3 78.4L506.9 79.5L505.6 80.6L504.2 81.7L502.7 82.7L501.2 83.6L499.5 84.3L497.8 85L496.1 85.8L494.4 86.7L492.8 87.6L491.2 88.6L489.5 89.5L487.9 90.5L486.4 91.6L484.8 92.7L483.3 93.8L481.7 95L480.3 96.2L478.8 97.5L477.4 98.8L476 100.1L474.7 101.5L473.4 102.9L472.1 104.4L470.8 105.8L469.5 107.3L468.4 108.8L467.3 110.5L466.4 112.2L465.5 113.9L464.7 115.6L463.9 117.4L463.1 119.1L462.4 121L461.8 122.8L461.2 124.6L460.7 126.5L460.3 128.4L459.9 130.3L459.6 132.2L459.4 134.1L459.3 136.1L459.3 138L459.4 140L459.6 141.9L459.9 143.9L460.3 145.8L460.7 147.7L461.2 149.7L461.7 151.5L462 153.4L462.4 155.2L462.9 157.1L463.5 158.9L464.4 160.6L465.5 162.4L466.5 164.1L467 165.8L467.4 167.5L467.8 169.2L468.2 170.9L468.5 172.5L468.8 174.2L469 175.9L469.2 177.6L469.5 179.2L469.7 180.9L470 182.6L470.3 184.3L470.4 186L470.6 187.7L470.6 189.5L470.7 191.2L470.8 193L471 194.8L471.2 196.5L471.4 198.3L471.6 200.1L472 201.9L472.4 203.6L472.9 205.4L473.4 207.1L474 208.8L474.7 210.4L475.6 212L476.6 213.4L477.8 214.8L478.9 216.2L480.1 217.5L481.3 218.9L482.5 220.2L483.6 221.5L484.7 222.9L485.7 224.3L486.8 225.7L487.9 227.1L489.1 228.4L490.2 229.7L491.3 231.1L492.4 232.5L493.5 233.9L494.6 235.3L495.8 236.6L496.9 238L498.1 239.3L499.3 240.6L500.6 241.9L502 243.1L503.3 244.2L504.7 245.4L506.1 246.5L507.5 247.7L508.9 248.8L510.3 249.9L511.7 251L513.2 252.2L514.6 253.4L516 254.5L517.5 255.7L519 256.8L520.5 257.9L522 259L523.6 260L525.1 261L526.8 262L528.4 262.9L530.1 263.7L531.8 264.5L533.5 265.3L535.3 265.9L537.1 266.5L538.9 267L540.7 267.5L542.6 267.9L544.4 268.3L546.3 268.5L548.2 268.7L550 268.9L551.9 269L553.8 269L555.7 269L557.6 268.9L559.4 268.7L561.3 268.3L563.2 267.8L565 267.3L566.8 266.7L568.6 266L570.4 265.4L572.2 264.9L573.9 264.4L575.7 264.1L577.5 263.9L579.2 263.7L581 263.4L582.8 263.2L584.5 263L586.3 262.7L588.1 262.4L589.8 262L591.6 261.7L593.4 261.3L595.1 261L596.9 260.7L598.7 260.4L600.5 259.9L602.2 259.2L603.9 258.6L605.5 257.9L607.2 257.2L608.8 256.4L610.5 255.6L612.1 254.8L613.7 253.9L615.3 253.1L616.9 252.3L618.6 251.7L620.9 251.8L623 251.7L625.1 251.5L627.1 251L628.9 250.4L630.7 249.6L632.4 248.7L634.1 247.7L635.7 246.6L637.1 245.4L638.6 244.1L639.9 242.8L641.3 241.4L642.6 240L643.8 238.5L645 237L646.1 235.4L647.1 233.8L648.1 232.1L649.1 230.5L650 228.8L650.9 227.1L651.7 225.4L652.5 223.7L653.3 222L654.1 220.3L654.8 218.5L655.5 216.8L656.2 215L656.9 213.4L657.8 211.7L658.6 210.1L659.5 208.5L660.3 206.8L661.1 205.2L661.9 203.5L662.7 201.9L663.5 200.2L664.4 198.6L665.3 196.9L666.2 195.3L666.9 193.5L667.5 191.8L668.1 190L668.6 188.2L669.1 186.4L669.5 184.6L669.9 182.8L670.1 180.9L670.3 179.1L670.5 177.2L670.6 175.4L670.6 173.5L670.4 171.6L670.2 169.8L669.9 167.9L669.7 166.1L669.6 164.2L669.6 162.4L669.2 160.6L668.3 158.8L667.5 157L666.7 155.3L665.9 153.6L665 151.9L664.1 150.2L663.2 148.6L662.2 147L661.1 145.5L660 143.9L658.9 142.4L658.1 140.9L657.3 139.4L656.5 137.9L655.8 136.4L655 134.9L654.3 133.4L653.6 131.9L652.9 130.4L652.2 128.9L651.5 127.5L650.7 126L649.9 124.6L649 123.3L648 121.9L646.9 120.7L645.8 119.4L644.7 118.2L643.5 117.1L642.3 115.9L641.1 114.9L639.8 113.8L638.5 112.8L637.1 111.9L635.8 111L634.4 110.1L633.1 109.2L631.7 108.4L630.2 107.7L628.8 107L627.3 106.3L625.7 105.8L624.1 105.3L622.4 105L620.3 105.2L618.2 105.3L616.5 105.1L615.3 104.6L614.1 103.9L612.9 103.2L612 102.2L611.9 100.2L612.1 97.6L612.2 94.9L612.1 92.6L611.9 90.2L611.5 87.9L611 85.8L610.4 83.8L609.6 81.9L608.8 80.1L607.8 78.4L606.8 76.8L605.6 75.3L604.4 73.8L603.2 72.5L601.9 71.2L600.5 70L599.1 68.8L597.6 67.7L596.1 66.7L594.6 65.7L593 64.8L591.4 63.9L589.8 63L588.1 62.2L586.4 61.6L584.7 61.2L582.9 60.7L581.2 60.4L579.4 60.1L577.6 59.8L575.8 59.6L574 59.4L572.2 59.3L570.4 59.4L568.6 59.5L566.8 59.7L565 59.8Z"/>
<path stroke="#e6ae38" stroke-width="2.0" d="M565 58.8L563.2 58.4L561.4 57.9L559.5 57.4L557.6 57.1L555.8 56.9L553.9 56.7L552 56.6L550.1 56.7L548.3 56.8L546.4 57L544.6 57.2L542.7 57.5L540.9 57.9L539.1 58.4L537.3 59L535.5 59.6L533.8 60.3L532.1 61L530.4 61.8L528.7 62.6L527 63.5L525.4 64.4L523.8 65.4L522.2 66.4L520.7 67.4L519.2 68.4L517.7 69.5L516.2 70.7L514.8 71.9L513.4 73.1L512.1 74.4L510.8 75.7L509.5 77L508.3 78.3L507.1 79.7L505.9 81.1L504.8 82.5L503.7 83.9L502.6 85.4L501.6 86.8L500.4 88.1L499.1 89.3L497.8 90.4L496.5 91.4L495.1 92.5L493.7 93.6L492.3 94.6L490.8 95.6L489.2 96.5L487.5 97.4L485.9 98.4L484.2 99.3L482.5 100.3L480.9 101.3L479.3 102.4L477.8 103.6L476.4 104.8L475 106.1L473.6 107.5L472.3 108.9L471 110.3L469.8 111.8L468.6 113.3L467.3 114.8L466.1 116.3L465 117.9L463.9 119.5L463 121.2L462.2 122.9L461.4 124.7L460.6 126.5L459.9 128.2L459.2 130.1L458.6 131.9L458 133.7L457.5 135.6L457.1 137.5L456.9 139.4L456.8 141.4L456.7 143.3L456.7 145.3L456.9 147.2L457.1 149.1L457.3 151.1L457.5 153L457.8 154.9L458 156.8L458.4 158.7L458.9 160.5L459.9 162.4L461 164.2L461.8 166L462.6 167.8L463.3 169.5L464 171.2L464.7 172.9L465.4 174.6L466.2 176.3L467 177.9L467.7 179.6L468.2 181.2L468.5 182.9L468.9 184.6L469.4 186.2L469.8 187.9L470.3 189.6L470.6 191.3L470.9 193L471 194.8L471.2 196.5L471.5 198.3L471.8 200.1L472.1 201.8L472.5 203.6L472.9 205.4L473.3 207.1L473.7 208.9L474.1 210.7L474.5 212.6L474.9 214.4L475.5 216.2L476.3 217.8L477 219.5L477.9 221.2L478.8 222.7L479.8 224.3L480.8 225.8L481.9 227.3L483 228.8L484.1 230.3L485.3 231.7L486.5 233L487.8 234.4L489.1 235.7L490.4 237L491.8 238.2L493.3 239.3L494.8 240.4L496.3 241.4L498 242.3L499.7 243L501.4 243.8L502.9 244.8L504.4 245.9L505.8 246.9L507.3 247.9L508.8 248.9L510.3 249.9L511.8 250.9L513.3 252L514.8 253L516.2 254.1L517.7 255.2L519.2 256.3L520.7 257.5L522.2 258.6L523.7 259.7L525.3 260.7L526.9 261.7L528.5 262.7L530.1 263.6L531.8 264.5L533.5 265.3L535.3 266.1L537 266.8L538.8 267.5L540.6 268.2L542.4 268.8L544.2 269.5L546 270.1L547.9 270.6L549.7 271L551.6 271.4L553.5 271.7L555.4 272L557.3 272.1L559.3 272L561.2 271.9L563.1 271.6L565 271.3L566.9 271L568.8 270.5L570.6 270L572.5 269.5L574.3 268.8L576.1 268.1L577.9 267.1L579.6 266.2L581.3 265.5L583.1 264.8L584.8 264.2L586.5 263.5L588.2 262.7L589.8 261.9L591.4 261.1L593.1 260.2L594.6 259.4L596.2 258.5L597.8 257.5L599.3 256.6L600.8 255.6L602.3 254.6L603.7 253.6L605.2 252.6L606.6 251.6L608 250.5L609.3 249.3L610.6 248.1L611.8 246.9L613.1 245.7L614.4 244.6L615.7 243.5L617 242.4L618.3 241.5L620.1 241.1L622 240.9L623.9 240.6L625.8 240.2L627.6 239.8L629.5 239.2L631.2 238.6L633 237.9L634.7 237.1L636.2 236.1L637.5 234.9L638.7 233.6L639.9 232.3L641.1 230.9L642.2 229.5L643.2 228L644.2 226.5L645.1 225L645.9 223.4L646.6 221.7L646.9 219.8L647.3 217.9L647.8 216.2L648.7 214.7L649.7 213.3L650.7 211.9L651.6 210.4L652.4 208.9L653 207.3L653.4 205.5L653.7 203.8L653.9 202L654.2 200.2L654.3 198.5L654.4 196.7L654.4 194.9L654.5 193.2L655 191.6L656.1 190.2L657.2 188.8L658.2 187.4L659.2 185.9L660.1 184.4L660.8 182.8L661.4 181.1L661.9 179.5L662.3 177.8L662.7 176.1L662.9 174.4L663.1 172.7L663.3 171L663.4 169.3L663.5 167.6L663.6 165.8L663.6 164.1L663.6 162.4L663.3 160.7L662.8 159L662.2 157.3L661.8 155.6L661.3 154L660.9 152.3L660.3 150.7L659.6 149.1L658.8 147.5L657.9 146L656.9 144.5L655.9 143.1L654.9 141.7L653.7 140.3L652.5 138.9L651.3 137.7L650.1 136.4L648.8 135.2L647.5 134L646.2 132.8L644.9 131.7L643.7 130.6L642.4 129.6L641.1 128.5L639.8 127.5L638.5 126.5L637.3 125.6L636.2 124.6L635.1 123.5L634 122.5L633 121.5L631.9 120.6L630.8 119.6L629.7 118.8L628.5 117.9L627.3 117.1L626.1 116.4L624.8 115.7L623.5 115L622 114.6L620.2 114.4L618.7 114.1L617.6 113.3L616.8 112.4L616 111.4L615.3 110.4L614.7 109.1L614.6 107.3L614.7 105.2L614.9 103L614.9 100.8L614.9 98.6L614.9 96.2L614.8 93.8L614.7 91.5L614.4 89.2L614 87L613.5 84.8L612.8 82.8L612 81L611 79.4L609.9 77.9L608.8 76.4L607.6 75.1L606.3 73.8L605 72.6L603.6 71.5L602.1 70.5L600.7 69.4L599.2 68.4L597.7 67.4L596.2 66.4L594.6 65.6L593 64.9L591.3 64.2L589.6 63.7L587.9 63.1L586.2 62.7L584.5 62.3L582.7 62L581 61.7L579.2 61.4L577.4 61.1L575.7 60.8L573.9 60.5L572.1 60.2L570.4 59.9L568.6 59.6L566.8 59.2L565 58.8Z"/>
</g>
<rect x="699.7" y="145" width="50.8" height="34.4" fill="#fff" stroke="#b2b2b2" stroke-width="1.2"/>
<line x1="702.7" y1="151.4" x2="728.5" y2="151.4" stroke="#226fa8" stroke-width="1.6"/>
<text transform="translate(730.1 154.8) scale(0.9 1)" text-anchor="start" font-family='"Liberation Serif", serif' font-size="8.6" fill="#000" stroke="#000" stroke-width="0.2">5000</text>
<line x1="702.7" y1="161.9" x2="728.5" y2="161.9" stroke="#a06f55" stroke-width="2.1"/>
<text transform="translate(730.1 165.9) scale(0.9 1)" text-anchor="start" font-family='"Liberation Serif", serif' font-size="8.6" fill="#000" stroke="#000" stroke-width="0.2">5200</text>
<line x1="702.7" y1="172.7" x2="728.5" y2="172.7" stroke="#e6ae38" stroke-width="1.6"/>
<text transform="translate(730.1 175.7) scale(0.9 1)" text-anchor="start" font-family='"Liberation Serif", serif' font-size="8.6" fill="#000" stroke="#000" stroke-width="0.2">5400</text>
</g>
<g>
<g fill="none" stroke="#d2d2d2" stroke-width="0.8">
<circle cx="975.4" cy="162.4" r="22"/>
<circle cx="975.4" cy="162.4" r="44"/>
<circle cx="975.4" cy="162.4" r="66"/>
<circle cx="975.4" cy="162.4" r="88"/>
<circle cx="975.4" cy="162.4" r="110"/>
<line x1="975.4" y1="52.4" x2="975.4" y2="272.4"/>
<line x1="920.4" y1="67.1" x2="1030.4" y2="257.7"/>
<line x1="880.1" y1="107.4" x2="1070.7" y2="217.4"/>
<line x1="865.4" y1="162.4" x2="1085.4" y2="162.4"/>
<line x1="880.1" y1="217.4" x2="1070.7" y2="107.4"/>
<line x1="920.4" y1="257.7" x2="1030.4" y2="67.1"/>
</g>
<text transform="translate(974.8 46.6) scale(0.96 1)" text-anchor="middle" font-family='"Liberation Sans", sans-serif' font-size="8.2" fill="#000" stroke="#000" stroke-width="0.18">0</text>
<text transform="translate(912.7 62) scale(0.96 1)" text-anchor="middle" font-family='"Liberation Sans", sans-serif' font-size="8.2" fill="#000" stroke="#000" stroke-width="0.18">30</text>
<text transform="translate(871.3 103.7) scale(0.96 1)" text-anchor="middle" font-family='"Liberation Sans", sans-serif' font-size="8.2" fill="#000" stroke="#000" stroke-width="0.18">60</text>
<text transform="translate(856.2 165.8) scale(0.96 1)" text-anchor="middle" font-family='"Liberation Sans", sans-serif' font-size="8.2" fill="#000" stroke="#000" stroke-width="0.18">90</text>
<text transform="translate(869 228.1) scale(0.96 1)" text-anchor="middle" font-family='"Liberation Sans", sans-serif' font-size="8.2" fill="#000" stroke="#000" stroke-width="0.18">120</text>
<text transform="translate(909.8 269.9) scale(0.96 1)" text-anchor="middle" font-family='"Liberation Sans", sans-serif' font-size="8.2" fill="#000" stroke="#000" stroke-width="0.18">150</text>
<text transform="translate(974.8 285) scale(0.96 1)" text-anchor="middle" font-family='"Liberation Sans", sans-serif' font-size="8.2" fill="#000" stroke="#000" stroke-width="0.18">180</text>
<text transform="translate(1038 269.9) scale(0.96 1)" text-anchor="middle" font-family='"Liberation Sans", sans-serif' font-size="8.2" fill="#000" stroke="#000" stroke-width="0.18">210</text>
<text transform="translate(1080.3 228.1) scale(0.96 1)" text-anchor="middle" font-family='"Liberation Sans", sans-serif' font-size="8.2" fill="#000" stroke="#000" stroke-width="0.18">240</text>
<text transform="translate(1095.2 165.8) scale(0.96 1)" text-anchor="middle" font-family='"Liberation Sans", sans-serif' font-size="8.2" fill="#000" stroke="#000" stroke-width="0.18">270</text>
<text transform="translate(1080.3 103.7) scale(0.96 1)" text-anchor="middle" font-family='"Liberation Sans", sans-serif' font-size="8.2" fill="#000" stroke="#000" stroke-width="0.18">300</text>
<text transform="translate(1038.9 62) scale(0.96 1)" text-anchor="middle" font-family='"Liberation Sans", sans-serif' font-size="8.2" fill="#000" stroke="#000" stroke-width="0.18">330</text>
<text transform="translate(974.7 165.4) scale(0.96 1)" text-anchor="middle" font-family='"Liberation Sans", sans-serif' font-size="8.2" fill="#000" stroke="#000" stroke-width="0.18">-50</text>
<text transform="translate(978.5 143.7) scale(0.96 1)" text-anchor="middle" font-family='"Liberation Sans", sans-serif' font-size="8.2" fill="#000" stroke="#000" stroke-width="0.18">-40</text>
<text transform="translate(982.3 122) scale(0.96 1)" text-anchor="middle" font-family='"Liberation Sans", sans-serif' font-size="8.2" fill="#000" stroke="#000" stroke-width="0.18">-30</text>
<text transform="translate(986.2 100.4) scale(0.96 1)" text-anchor="middle" font-family='"Liberation Sans", sans-serif' font-size="8.2" fill="#000" stroke="#000" stroke-width="0.18">-20</text>
<text transform="translate(990 78.7) scale(0.96 1)" text-anchor="middle" font-family='"Liberation Sans", sans-serif' font-size="8.2" fill="#000" stroke="#000" stroke-width="0.18">-10</text>
<text transform="translate(993.8 57) scale(0.96 1)" text-anchor="middle" font-family='"Liberation Sans", sans-serif' font-size="8.2" fill="#000" stroke="#000" stroke-width="0.18">0</text>
<g fill="none" stroke-linejoin="round">
<path stroke="#226fa8" stroke-width="2.0" d="M975.4 82.1L974 82.1L972.6 81.6L971.1 80.7L969.6 79.8L968.1 78.8L966.5 78L964.9 77.2L963.3 76.3L961.6 75.5L959.9 74.7L958.2 74.1L956.5 73.7L954.8 73.2L953.1 72.9L951.3 72.5L949.5 72.2L947.7 71.9L945.9 71.6L944.1 71.6L942.4 71.7L940.7 71.9L938.9 72.2L937.3 72.5L935.6 73.1L934.1 73.8L932.6 74.7L931.1 75.6L929.7 76.5L928.3 77.5L927 78.5L925.7 79.7L924.4 80.8L923.2 82L922 83.2L920.8 84.4L919.5 85.5L918.3 86.7L917.1 87.8L916 89.1L914.9 90.3L913.9 91.7L913 93.1L912.2 94.6L911.4 96.1L910.7 97.7L910 99.2L909.4 100.8L908.9 102.5L908.3 104.1L907.6 105.5L906.6 106.7L905.5 107.8L904.2 108.7L902.9 109.7L901.3 110.5L899.6 111.3L897.9 112.1L896.3 113L894.8 113.9L893.2 115L891.7 116L890.3 117.2L888.9 118.3L887.6 119.6L886.3 120.9L885.1 122.2L883.9 123.6L882.8 125L881.7 126.4L880.7 127.9L879.8 129.5L879 131.1L878.2 132.7L877.4 134.3L876.8 136L876.1 137.6L875.5 139.3L874.9 141L874.4 142.8L874 144.5L873.6 146.3L873.3 148.1L873.1 149.8L872.8 151.6L872.6 153.4L872.4 155.2L872.2 157L872 158.8L871.7 160.6L871.2 162.4L870.7 164.2L870.4 166.1L870.2 167.9L870.1 169.8L870.1 171.6L870.1 173.5L870.1 175.3L870.3 177.2L870.4 179L870.6 180.9L870.9 182.7L871.1 184.6L871.4 186.4L871.7 188.2L872.1 190.1L872.5 191.9L872.9 193.7L873.3 195.6L873.8 197.4L874.3 199.2L874.9 201L875.5 202.8L876.1 204.5L876.8 206.3L877.6 208L878.3 209.7L879.1 211.4L880 213.1L880.9 214.8L881.8 216.4L882.7 218.1L883.7 219.7L884.7 221.3L885.7 222.9L886.7 224.5L887.7 226.1L888.7 227.7L889.8 229.3L890.8 230.9L891.9 232.5L893 234L894.1 235.6L895.2 237.2L896.3 238.8L897.5 240.3L898.8 241.7L900.1 243.1L901.4 244.5L902.8 245.9L904.2 247.2L905.7 248.5L907.3 249.6L908.9 250.7L910.6 251.6L912.3 252.5L914.1 253.3L915.9 254L917.9 254.4L919.9 254.7L922 254.9L924.1 255L926.3 254.8L928.5 254.5L930.6 254.2L932.8 253.8L935 253.2L937.1 252.5L939.1 252.3L940.7 252.8L942.1 253.9L943.4 255.2L944.8 256.7L946.2 258L947.6 259.2L949.1 260.5L950.6 261.7L952.2 262.8L953.8 264L955.4 265L957.1 266.1L958.8 267L960.6 267.8L962.4 268.5L964.2 269.1L966 269.6L967.9 270.1L969.7 270.4L971.6 270.7L973.5 270.9L975.4 271.1L977.3 271.2L979.2 271.4L981.1 271.5L983 271.5L984.9 271.3L986.8 271.1L988.7 270.8L990.6 270.5L992.5 270.1L994.3 269.6L996.1 269L997.9 268.2L999.6 267.3L1001.3 266.4L1003 265.3L1004.6 264.1L1006.1 262.8L1007.6 261.4L1009 259.8L1010.3 258.2L1011.5 256.4L1012.6 254.5L1013.7 252.7L1014.7 250.7L1015.7 248.7L1016.6 246.8L1017.5 245L1018.3 243L1019.1 241.2L1020.2 239.9L1021.6 239.3L1023.3 239.1L1025.2 239.2L1027.3 239.3L1029.3 239.3L1031.3 239.3L1033.4 239.4L1035.5 239.4L1037.7 239.3L1039.8 239.2L1042 239L1044.1 238.7L1046.1 238.2L1048 237.6L1050 237L1051.8 236.1L1053.3 235.1L1054.8 233.9L1056.1 232.6L1057.5 231.3L1058.7 229.9L1059.9 228.4L1061 226.9L1062 225.3L1063 223.7L1063.9 222.1L1064.7 220.4L1065.5 218.7L1066.2 216.9L1066.7 215.1L1067.2 213.3L1067.5 211.4L1067.6 209.4L1067.5 207.3L1067.3 205.3L1067.2 203.3L1067 201.3L1066.7 199.3L1066.3 197.3L1066 195.4L1065.8 193.5L1065.6 191.7L1065.4 189.9L1065.3 188.2L1065.3 186.5L1065.4 184.9L1066 183.3L1066.9 181.8L1068 180.4L1069.1 178.9L1070.1 177.4L1070.9 175.8L1071.7 174.2L1072.5 172.6L1073.1 170.9L1073.5 169.3L1073.8 167.6L1074.1 165.8L1074.2 164.1L1074.3 162.4L1074.1 160.7L1073.8 159L1073.3 157.3L1072.8 155.6L1072.2 153.9L1071.6 152.3L1070.9 150.7L1070.2 149.1L1069.4 147.5L1068.5 146L1067.5 144.5L1066.5 143L1065.4 141.6L1064.4 140.2L1063.4 138.8L1062.5 137.4L1061.5 136.1L1060.5 134.7L1059.5 133.4L1058.5 132.2L1057.3 131L1056.1 129.8L1054.9 128.7L1053.5 127.6L1052.1 126.6L1050.7 125.7L1049.1 124.8L1047.5 124.1L1045.7 123.4L1044 122.8L1042.3 122.2L1040.4 121.8L1038.6 121.4L1036.8 121L1035.2 120.6L1033.8 120L1032.5 119.3L1031.5 118.6L1030.7 117.6L1030.2 116.4L1029.8 115.1L1029.5 113.7L1029 112.4L1028.3 111.3L1027.6 110.2L1026.7 109.2L1025.9 108.2L1025.1 107.2L1024.6 105.7L1025 103.3L1025.6 100.5L1025.8 97.8L1025.9 95.4L1025.8 93.1L1025.5 90.8L1025.2 88.6L1024.6 86.6L1024 84.6L1023.2 82.8L1022.3 81.1L1021.3 79.5L1020.3 78L1019.1 76.6L1017.9 75.3L1016.6 74.1L1015.2 73L1013.8 71.9L1012.4 70.9L1010.8 70.1L1009.2 69.4L1007.6 68.8L1006 68.2L1004.4 67.7L1002.7 67.2L1001 67L999.2 66.9L997.4 66.9L995.7 67L993.9 67.1L992.2 67.4L990.4 67.8L988.6 68.4L986.9 69.1L985.1 70.1L983.4 71.3L981.7 72.8L980 74.7L978.4 76.9L976.8 79.5L975.4 82.1Z"/>
<path stroke="#cb592a" stroke-width="1.6" d="M975.4 72.9L973.9 73.6L972.3 74.4L970.8 75.2L969.4 76L967.9 76.5L966.4 76.8L964.9 76.7L963.3 76.2L961.6 75.4L959.9 74.7L958.3 74.2L956.6 73.7L954.8 73.3L953.1 72.9L951.3 72.5L949.5 72.2L947.7 71.9L945.9 71.6L944.1 71.6L942.4 71.7L940.7 71.9L938.9 72.2L937.3 72.5L935.6 73.1L934.1 73.8L932.6 74.7L931.2 75.6L929.7 76.5L928.3 77.5L927 78.5L925.7 79.6L924.4 80.7L923.1 81.8L921.7 82.8L920.3 83.7L918.8 84.5L917.3 85.4L915.9 86.2L914.5 87.1L913 88L911.6 89L910.2 89.9L908.8 91L907.6 92.2L906.4 93.4L905.3 94.7L904.2 96L903.1 97.3L902.1 98.7L901 100L899.9 101.3L898.9 102.7L898 104L897.1 105.5L896.3 107L895.6 108.6L894.9 110.2L894.3 111.7L893.6 113.2L892.9 114.8L892.3 116.3L891.7 117.9L891 119.4L890.4 120.9L889.7 122.4L889.1 124L888.4 125.5L887.8 127L887.3 128.6L886.7 130.1L886.2 131.7L885.7 133.2L885.2 134.8L884.7 136.4L884.2 138L883.7 139.5L883.2 141.1L882.6 142.7L882.1 144.3L881.4 145.8L880.5 147.4L879.7 148.9L878.9 150.5L878.1 152.2L877.4 153.8L876.8 155.5L876.2 157.2L875.6 158.9L875.1 160.6L874.7 162.4L874.3 164.2L874 165.9L873.7 167.7L873.4 169.5L873.3 171.3L873.2 173.1L873.2 175L873.3 176.8L873.4 178.6L873.6 180.3L873.9 182.1L874.1 183.9L874.4 185.7L874.8 187.5L875.2 189.3L875.6 191L876 192.8L876.4 194.6L876.9 196.3L877.3 198.1L877.8 199.9L878.3 201.6L878.8 203.4L879.3 205.2L879.8 207L880.4 208.7L881 210.5L881.6 212.3L882.2 214L882.9 215.8L883.6 217.5L884.4 219.3L885.2 221L886.1 222.6L887.1 224.2L888.1 225.8L889.1 227.4L890.2 229L891.3 230.5L892.4 232.1L893.4 233.7L894.5 235.2L895.6 236.8L896.7 238.4L897.9 239.9L899.1 241.4L900.4 242.9L901.6 244.4L902.9 245.8L904.3 247.2L905.7 248.5L907.3 249.6L908.9 250.7L910.6 251.6L912.3 252.5L914.1 253.3L915.9 254L917.9 254.4L919.9 254.7L922 254.9L924 255.1L926.2 255L928.2 255L930.1 255.2L931.9 255.6L933.7 256L935.5 256.4L937.2 256.9L938.9 257.5L940.6 258.1L942.2 258.7L943.9 259.2L945.6 259.8L947.3 260.3L949 260.9L950.7 261.4L952.4 262L954.1 262.6L955.8 263.1L957.5 263.7L959.3 264.3L961 264.9L962.7 265.5L964.5 266.1L966.3 266.6L968.1 267.1L969.9 267.5L971.7 267.7L973.6 267.8L975.4 268L977.2 268.2L979.1 268.4L981 268.5L982.8 268.7L984.7 268.7L986.6 268.6L988.4 268.5L990.3 268.4L992.2 268.2L994 268L995.9 267.8L997.7 267.4L999.5 266.9L1001.3 266.2L1003 265.5L1004.8 264.8L1006.5 264L1008.1 263.2L1009.8 262.3L1011.4 261.3L1013 260.2L1014.5 259.1L1016 258L1017.5 256.9L1019 255.9L1020.5 254.9L1022 253.8L1023.5 252.8L1024.9 251.7L1026.3 250.6L1027.7 249.5L1029.2 248.5L1030.8 247.7L1032.5 247.1L1034.3 246.6L1036.1 246L1037.9 245.4L1039.8 244.8L1041.6 244.2L1043.4 243.4L1045.2 242.7L1046.9 241.8L1048.6 240.9L1050.3 240L1052 239L1053.6 237.9L1055.2 236.8L1056.7 235.6L1058.2 234.3L1059.5 233L1060.8 231.5L1062 230.1L1063.3 228.6L1064.4 227.1L1065.6 225.5L1066.6 223.9L1067.6 222.3L1068.6 220.6L1069.5 218.9L1070.4 217.2L1071.1 215.5L1071.8 213.7L1072.4 211.8L1072.9 209.9L1073.3 208.1L1073.7 206.2L1073.9 204.2L1074.1 202.3L1074.2 200.3L1074.3 198.4L1074.3 196.4L1074.2 194.5L1074 192.6L1073.9 190.6L1073.8 188.8L1073.7 186.9L1073.5 185.1L1073.4 183.2L1073.4 181.5L1073.6 179.7L1073.9 178L1074.2 176.3L1074.4 174.6L1074.7 172.8L1074.9 171.1L1075.1 169.4L1075.4 167.6L1075.7 165.9L1076 164.2L1076.3 162.4L1076.5 160.6L1076.8 158.9L1077 157.1L1076.9 155.3L1076.6 153.5L1076.3 151.8L1075.8 150.1L1075.3 148.4L1074.8 146.7L1074.1 145L1073.3 143.4L1072.5 141.8L1071.7 140.2L1070.8 138.6L1069.9 137.1L1068.9 135.6L1068 134.1L1067.1 132.6L1066.3 131.1L1065.4 129.6L1064.5 128.2L1063.6 126.8L1062.6 125.4L1061.7 124L1060.7 122.6L1059.7 121.3L1058.5 120L1057.3 118.8L1056 117.7L1054.6 116.7L1053.2 115.7L1051.7 114.7L1050.2 113.8L1048.6 113L1047 112.3L1045.4 111.6L1043.5 111.1L1041.5 110.7L1039.7 110.3L1038.5 109.4L1037.7 108.2L1037 106.9L1036.4 105.5L1035.9 104L1035.4 102.4L1034.9 100.8L1034.6 98.9L1034.4 96.9L1034.1 94.9L1033.6 93L1033 91.2L1032.4 89.4L1031.7 87.7L1030.9 86L1030 84.4L1029.1 82.8L1028.1 81.3L1027 79.9L1025.8 78.5L1024.6 77.2L1023.4 75.9L1022 74.7L1020.7 73.5L1019.3 72.4L1017.8 71.4L1016.4 70.4L1014.9 69.5L1013.3 68.6L1011.7 67.8L1010.1 67.1L1008.5 66.4L1006.8 65.8L1005.1 65.4L1003.3 65.1L1001.5 64.8L999.8 64.7L998 64.7L996.1 64.9L994.3 65.1L992.5 65.4L990.7 65.7L988.9 66.1L987.2 66.6L985.4 67.4L983.6 68.3L981.9 69.2L980.2 70.2L978.6 71.1L977 72L975.4 72.9Z"/>
</g>
<rect x="1110.1" y="150.3" width="50.8" height="24.1" fill="#fff" stroke="#555" stroke-width="0.9"/>
<line x1="1113.1" y1="156.9" x2="1138" y2="156.9" stroke="#226fa8" stroke-width="2.0"/>
<text x="1140.5" y="159.8" text-anchor="start" font-family='"Liberation Sans", sans-serif' font-size="7.8" fill="#000" stroke="#000" stroke-width="0.15">5600</text>
<line x1="1113.1" y1="167.6" x2="1138" y2="167.6" stroke="#cb592a" stroke-width="1.6"/>
<text x="1140.5" y="170.5" text-anchor="start" font-family='"Liberation Sans", sans-serif' font-size="7.8" fill="#000" stroke="#000" stroke-width="0.15">5800</text>
</g>
<g>
<g fill="none" stroke="#e6e6e6" stroke-width="0.7">
<circle cx="157.4" cy="464.2" r="22"/>
<circle cx="157.4" cy="464.2" r="44"/>
<circle cx="157.4" cy="464.2" r="66"/>
<circle cx="157.4" cy="464.2" r="88"/>
<circle cx="157.4" cy="464.2" r="110"/>
<line x1="157.4" y1="354.2" x2="157.4" y2="574.2"/>
<line x1="102.4" y1="368.9" x2="212.4" y2="559.5"/>
<line x1="62.1" y1="409.2" x2="252.7" y2="519.2"/>
<line x1="47.4" y1="464.2" x2="267.4" y2="464.2"/>
<line x1="62.1" y1="519.2" x2="252.7" y2="409.2"/>
<line x1="102.4" y1="559.5" x2="212.4" y2="368.9"/>
</g>
<text transform="translate(156.8 348.7) scale(0.92 1)" text-anchor="middle" font-family='"Liberation Serif", serif' font-size="9.0" fill="#050505">0</text>
<text transform="translate(94.7 364.1) scale(0.92 1)" text-anchor="middle" font-family='"Liberation Serif", serif' font-size="9.0" fill="#050505">30</text>
<text transform="translate(53.3 405.8) scale(0.92 1)" text-anchor="middle" font-family='"Liberation Serif", serif' font-size="9.0" fill="#050505">60</text>
<text transform="translate(38.2 467.9) scale(0.92 1)" text-anchor="middle" font-family='"Liberation Serif", serif' font-size="9.0" fill="#050505">90</text>
<text transform="translate(51 530.2) scale(0.92 1)" text-anchor="middle" font-family='"Liberation Serif", serif' font-size="9.0" fill="#050505">120</text>
<text transform="translate(91.8 572) scale(0.92 1)" text-anchor="middle" font-family='"Liberation Serif", serif' font-size="9.0" fill="#050505">150</text>
<text transform="translate(156.8 587.1) scale(0.92 1)" text-anchor="middle" font-family='"Liberation Serif", serif' font-size="9.0" fill="#050505">180</text>
<text transform="translate(220 572) scale(0.92 1)" text-anchor="middle" font-family='"Liberation Serif", serif' font-size="9.0" fill="#050505">210</text>
<text transform="translate(262.3 530.2) scale(0.92 1)" text-anchor="middle" font-family='"Liberation Serif", serif' font-size="9.0" fill="#050505">240</text>
<text transform="translate(277.2 467.9) scale(0.92 1)" text-anchor="middle" font-family='"Liberation Serif", serif' font-size="9.0" fill="#050505">270</text>
<text transform="translate(262.3 405.8) scale(0.92 1)" text-anchor="middle" font-family='"Liberation Serif", serif' font-size="9.0" fill="#050505">300</text>
<text transform="translate(220.9 364.1) scale(0.92 1)" text-anchor="middle" font-family='"Liberation Serif", serif' font-size="9.0" fill="#050505">330</text>
<text transform="translate(156.7 467.5) scale(0.92 1)" text-anchor="middle" font-family='"Liberation Serif", serif' font-size="9.0" fill="#050505">-50</text>
<text transform="translate(160.5 445.8) scale(0.92 1)" text-anchor="middle" font-family='"Liberation Serif", serif' font-size="9.0" fill="#050505">-40</text>
<text transform="translate(164.3 424.1) scale(0.92 1)" text-anchor="middle" font-family='"Liberation Serif", serif' font-size="9.0" fill="#050505">-30</text>
<text transform="translate(168.2 402.5) scale(0.92 1)" text-anchor="middle" font-family='"Liberation Serif", serif' font-size="9.0" fill="#050505">-20</text>
<text transform="translate(172 380.8) scale(0.92 1)" text-anchor="middle" font-family='"Liberation Serif", serif' font-size="9.0" fill="#050505">-10</text>
<text transform="translate(175.8 359.1) scale(0.92 1)" text-anchor="middle" font-family='"Liberation Serif", serif' font-size="9.0" fill="#050505">0</text>
<g fill="none" stroke-linejoin="round">
<path stroke="#226fa8" stroke-width="1.7" d="M157.4 362.5L155.6 362.7L153.9 363.4L152.2 364.1L150.5 365.1L148.8 366.1L147.2 367.1L145.6 367.8L143.9 368.5L142.3 369L140.7 369.3L139 369.4L137.3 369.4L135.5 369.4L133.7 369.3L131.9 368.9L130 368.6L128.1 368.2L126.1 367.8L124.1 367.4L122 367.1L120 366.8L118 366.6L115.9 366.5L113.9 366.5L111.9 366.6L109.9 366.9L108.2 367.6L106.5 368.4L104.8 369.3L103.1 370.2L101.5 371.2L100 372.4L98.6 373.7L97.3 375.1L96 376.4L94.6 377.8L93.3 379.1L92 380.5L90.7 381.8L89.3 383.1L87.9 384.3L86.5 385.5L85.2 386.7L83.8 388L82.5 389.3L81 390.5L79.5 391.5L77.8 392.5L76.2 393.6L74.7 394.8L73.2 396L71.8 397.3L70.4 398.6L69 400L67.7 401.4L66.5 402.9L65.3 404.4L64.1 405.9L63.1 407.5L62.2 409.2L61.3 410.9L60.5 412.7L59.7 414.4L59 416.2L58.3 418L57.7 419.8L57.2 421.6L56.7 423.5L56.3 425.4L56 427.3L55.7 429.2L55.5 431.1L55.4 433L55.4 434.9L55.4 436.9L55.5 438.8L55.6 440.7L55.8 442.6L55.9 444.5L56.1 446.3L56.4 448.2L56.8 450.1L57.5 451.9L58.5 453.8L59.5 455.6L60.5 457.4L61.5 459.2L62.3 460.9L63.2 462.6L64.3 464.2L65.6 465.8L67.3 467.3L69.1 468.8L70.9 470.3L72.6 471.6L74.4 472.9L76.4 474.1L78.7 475.3L81.3 476.3L83.8 477.2L86.1 478.1L88 478.9L89.3 479.9L90.4 480.9L91.3 481.9L92.2 482.9L93.1 483.8L94.2 484.7L95.2 485.6L96.1 486.5L96.4 487.6L93.9 489.9L92 492L91 493.8L90.3 495.5L89.9 497.1L89.8 498.7L89.8 500.1L90 501.5L90.3 502.9L90.6 504.3L91 505.7L91.4 507.1L91.7 508.5L92.2 509.9L92.6 511.3L93.1 512.6L93.7 514L94.3 515.3L94.9 516.6L95.6 517.9L96.3 519.2L97.2 520.3L98.3 521.2L99.6 522L101.1 522.5L102.6 522.9L105.2 522.1L108.4 520.6L110.9 519.6L113.2 518.7L115.5 517.8L118 516.4L119.5 516.4L119.3 518.6L118.8 521.5L118.6 523.9L118.6 526.3L118.7 528.6L119 530.6L119.6 532.4L120.3 534L121.1 535.5L122.1 536.6L123.3 537.3L124.7 537.6L126.2 537.7L127.7 537.7L129.3 537.5L130.9 537L132.6 536.1L134.3 535.3L136 534.3L137.7 533L139.3 531.8L140.7 531L141.9 531.1L142.9 532.3L143.8 533.9L144.8 535.5L145.9 537.1L146.9 538.8L148.1 540L149.4 540.4L150.8 539.5L152.3 537.7L153.7 535.5L155 532.9L156.3 529.3L157.4 526.1L158.4 523.5L159.4 521.2L160.3 520.2L161.4 521L162.5 523L163.8 525.1L165.1 527.1L166.5 529.2L168 530.8L169.3 531.7L170.6 532.3L172 532.9L173.5 534L175.2 535.6L176.9 537.1L178.5 537.7L179.7 537.2L180.7 536L181.7 534.6L182.6 533.6L183.8 533L185 532.5L186.1 531.9L187.3 531.4L188.6 531.1L190.2 531.5L192 532.1L193.7 532.5L195.1 532.3L196.3 531.5L197.3 530.6L198.4 529.8L199.4 528.9L200.7 528.4L202.4 528.5L204.4 528.9L206.3 529.1L208.5 529.6L210.5 529.7L212.1 529.4L213.6 528.8L215 528.1L216.2 527.3L217.3 526.2L218.2 525L218.9 523.6L219.6 522.2L220.1 520.7L220.6 519.1L221 517.6L221.1 515.7L220.9 513.8L220.9 512L221.4 510.7L222.1 509.5L222.9 508.4L223.6 507.2L224.3 506L224.9 504.8L225.4 503.4L225.7 502L225.9 500.6L226.3 499.3L226.8 498.1L228 497.1L229.9 496.5L232.1 495.9L234.3 495.3L236.7 494.6L239.2 494L241.2 493.1L242.8 492L244.2 490.7L245.5 489.5L246.6 488.1L247.5 486.7L248.4 485.2L249.3 483.7L250 482.2L250.8 480.7L251.5 479.1L252.1 477.5L252.8 475.9L253.4 474.3L254 472.7L254.6 471L255.2 469.3L255.7 467.6L256.2 465.9L256.5 464.2L256.8 462.5L257.3 460.7L257.9 458.9L258.5 457.1L259.2 455.3L259.8 453.4L260.2 451.6L260.7 449.7L261.1 447.8L261.4 445.9L261.7 443.9L262 442L262.3 440L262.4 438L262.4 436.1L262.2 434.2L261.9 432.3L261.5 430.4L261.1 428.5L260.6 426.6L260 424.8L259.5 423L258.9 421.1L258.2 419.3L257.5 417.5L256.7 415.8L255.8 414.1L254.7 412.5L253.6 410.9L252.4 409.3L251.3 407.8L250.1 406.3L248.8 404.8L247.5 403.4L246.1 402.1L244.5 400.9L242.6 400L240.8 399L239.2 397.9L237.8 396.7L236.4 395.5L235 394.3L233.7 393L232.4 391.7L231.2 390.4L229.9 389.1L228.6 387.8L227.3 386.6L226 385.3L224.7 384L223.4 382.7L222.2 381.3L220.9 380L219.5 378.8L218 377.6L216.5 376.5L215 375.5L213.5 374.5L211.9 373.5L210.2 372.8L208.3 372.3L206.4 372L204.5 371.7L202.5 371.7L200.5 371.8L198.5 371.9L196.4 372.3L194.4 372.6L192.4 372.9L190.6 373.1L188.7 373.2L187 373.2L185.2 373.2L183.5 373.2L181.8 373.2L180.1 373.1L178.5 372.8L176.9 372.3L175.4 371.7L173.8 370.9L172.3 370.1L170.8 368.9L169.3 367.7L167.7 366.6L166 365.5L164.4 364.5L162.7 363.8L160.9 363.1L159.2 362.7L157.4 362.5Z"/>
<path stroke="#c05a2c" stroke-width="1.8" d="M157.4 363.1L155.6 363.5L153.9 364.3L152.2 365.2L150.6 366.4L149 367.8L147.4 368.9L145.8 369.7L144.2 370.4L142.6 371L141 371.3L139.4 371.4L137.7 371.3L135.9 371.2L134.1 370.8L132.2 370.1L130.2 369.4L128.2 368.8L126.2 368.1L124.1 367.5L122 367L120 366.7L117.9 366.5L115.9 366.5L113.9 366.5L111.9 366.6L109.9 366.9L108.2 367.6L106.5 368.4L104.8 369.3L103.1 370.2L101.5 371.2L100 372.4L98.6 373.7L97.3 375.1L96 376.4L94.6 377.8L93.3 379.1L92 380.5L90.7 381.8L89.3 383.1L87.9 384.3L86.5 385.5L85.2 386.7L83.8 388L82.5 389.3L81 390.5L79.5 391.5L77.8 392.5L76.2 393.6L74.7 394.8L73.2 396L71.8 397.3L70.4 398.6L69 400L67.7 401.4L66.5 402.9L65.3 404.4L64.1 405.9L63.1 407.5L62.2 409.2L61.3 410.9L60.5 412.7L59.7 414.4L59 416.2L58.3 418L57.7 419.8L57.2 421.6L56.7 423.5L56.3 425.4L56 427.3L55.7 429.2L55.5 431.1L55.4 433L55.4 434.9L55.4 436.9L55.5 438.8L55.6 440.7L55.8 442.6L56 444.5L56.2 446.4L56.5 448.2L56.8 450.1L57.2 451.9L57.6 453.7L58 455.5L58.6 457.3L59.3 459.1L60.1 460.8L61.1 462.5L62.1 464.2L63.3 465.8L64.6 467.4L66 469L67.5 470.5L69.1 471.9L70.8 473.3L72.6 474.6L74.5 475.9L76.7 477L79.2 478L81.7 478.9L84.1 479.8L86.3 480.6L87.4 481.7L87.9 482.8L88.4 484L89 485.1L90 486.1L91.4 486.9L92.8 487.7L94.1 488.5L95.5 489.2L96.4 490.1L95.7 491.7L93.9 493.8L92.7 495.7L91.7 497.7L91.1 499.5L90.9 501L91 502.6L91.1 504L91.4 505.5L91.7 506.9L92 508.3L92.3 509.8L92.7 511.2L93.2 512.6L93.7 513.9L94.3 515.3L95 516.6L95.7 517.8L96.4 519.1L97.3 520.3L98.3 521.3L99.4 522.2L100.7 522.9L102.1 523.4L103.9 523.7L106.1 523.2L108.5 522.4L110.8 521.7L113.3 520.6L115.3 520L116.3 520.7L116.6 522.5L116.5 524.8L116.8 526.8L117.1 528.7L117.6 530.5L118.2 532.1L119 533.4L119.9 534.7L120.9 535.8L122.1 536.7L123.3 537.3L124.7 537.6L126.2 537.7L127.7 537.7L129.2 537.5L130.9 537L132.6 536.2L134.3 535.3L136 534.2L137.7 532.8L139.4 531.5L140.8 531L141.9 531.5L142.8 532.7L143.8 534.1L144.6 536.9L145.5 539.5L146.6 540.9L147.8 542L149.2 542.4L150.6 541.5L152.1 539.6L153.6 537.1L155 534.3L156.2 530.3L157.4 526.8L158.4 523.8L159.4 521.3L160.3 520.2L161.4 521.2L162.6 523.5L163.9 525.9L165.2 527.9L166.6 529.8L168.1 531.6L169.6 533.1L171.1 534.6L172.6 535.8L174.1 536.7L175.7 537.6L177.3 538.3L178.7 538.4L179.9 537.9L181 536.8L182 535.7L183 534.6L184.1 533.8L185.4 533.5L186.9 533.7L188.5 534.1L190.1 534.4L191.9 534.9L193.6 535.2L195 535L196.2 534.3L197.4 533.5L198.5 532.7L199.7 531.9L201 531.3L202.2 530.6L203.5 530.1L204.9 529.5L206.6 529.5L208.6 529.7L210.5 529.8L212.1 529.3L213.5 528.8L214.9 528.1L216.2 527.3L217.3 526.2L218.3 525.1L219.3 524L220.2 522.8L221 521.5L221.3 519.8L221.5 518L222.1 516.6L222.9 515.4L223.7 514.1L224.4 512.9L225.2 511.7L225.9 510.4L226.6 509.1L227.3 507.9L227.9 506.6L228.5 505.2L228.9 503.8L229 502.3L229 500.7L229.2 499.2L229.9 498L231.4 497.1L233.2 496.4L235 495.6L237.2 494.8L239.4 494L241.2 493.1L242.8 491.9L244.2 490.7L245.5 489.5L246.6 488.1L247.5 486.7L248.4 485.2L249.3 483.7L250 482.2L250.8 480.7L251.5 479.1L252.1 477.5L252.8 475.9L253.4 474.3L254 472.7L254.6 471L255.2 469.3L255.7 467.6L256.2 465.9L256.5 464.2L256.8 462.5L257.3 460.7L257.9 458.9L258.5 457.1L259.2 455.3L259.8 453.4L260.2 451.6L260.7 449.7L261.1 447.8L261.4 445.9L261.7 443.9L262 442L262.3 440L262.4 438L262.4 436.1L262.2 434.2L261.9 432.3L261.5 430.4L261.1 428.5L260.6 426.6L260 424.8L259.5 423L258.9 421.1L258.2 419.3L257.5 417.5L256.7 415.8L255.8 414.1L254.7 412.5L253.6 410.9L252.4 409.3L251.3 407.8L250.1 406.3L248.8 404.8L247.5 403.4L246.1 402.1L244.5 400.9L242.6 400L240.8 399L239.2 397.9L237.8 396.7L236.4 395.5L235 394.3L233.7 393L232.4 391.7L231.2 390.4L229.9 389.1L228.6 387.8L227.3 386.6L226 385.3L224.7 384L223.4 382.7L222.2 381.3L220.9 380L219.5 378.8L218 377.6L216.5 376.5L215 375.5L213.5 374.5L211.9 373.5L210.2 372.8L208.3 372.3L206.4 372L204.5 371.7L202.5 371.7L200.5 371.8L198.5 371.9L196.4 372.2L194.4 372.6L192.4 372.9L190.5 373.2L188.6 373.6L186.8 373.8L185 373.9L183.3 374L181.5 374.1L179.9 374.1L178.3 373.7L176.7 373.2L175.2 372.6L173.7 371.9L172.2 371.1L170.7 369.9L169.1 368.6L167.6 367.4L166 366.3L164.3 365.2L162.6 364.4L160.9 363.8L159.2 363.3L157.4 363.1Z"/>
<path stroke="#e6ae38" stroke-width="1.6" d="M157.4 363.5L155.6 363.8L153.9 364.4L152.2 365.2L150.6 366.3L149 367.7L147.4 368.9L145.8 369.7L144.2 370.4L142.6 371L141 371.3L139.4 371.4L137.7 371.3L135.9 371.2L134.1 370.8L132.2 370.1L130.2 369.4L128.2 368.8L126.2 368.1L124.1 367.5L122 367L120 366.7L117.9 366.5L115.9 366.5L113.9 366.5L111.9 366.6L109.9 366.9L108.2 367.6L106.5 368.4L104.8 369.3L103.1 370.2L101.5 371.2L100 372.4L98.6 373.7L97.3 375.1L96 376.4L94.6 377.8L93.3 379.1L92 380.5L90.7 381.8L89.3 383.1L87.9 384.3L86.5 385.5L85.2 386.7L83.8 388L82.5 389.3L81 390.5L79.5 391.5L77.8 392.5L76.2 393.6L74.7 394.8L73.2 396L71.8 397.3L70.4 398.6L69 400L67.7 401.4L66.5 402.9L65.3 404.4L64.1 405.9L63.1 407.5L62.2 409.2L61.3 410.9L60.5 412.7L59.7 414.4L59 416.2L58.3 418L57.7 419.8L57.2 421.6L56.7 423.5L56.3 425.4L56 427.3L55.7 429.2L55.5 431.1L55.4 433L55.4 434.9L55.4 436.9L55.5 438.8L55.6 440.7L55.8 442.6L56.1 444.5L56.4 446.4L56.7 448.2L56.8 450.1L56.8 451.8L56.7 453.6L56.7 455.4L56.7 457.2L57 458.9L57.7 460.7L58.7 462.5L59.8 464.2L61 465.9L62.2 467.5L63.6 469.1L65.1 470.7L66.6 472.1L68 473.6L69.5 475L71 476.3L72.7 477.6L74.4 478.8L76.3 480L78.2 481L80 482.1L82 483L83.1 484.1L83.1 485.5L82.9 487L83.2 488.3L84 489.5L85.2 490.5L86.4 491.4L87.6 492.4L88.8 493.3L90.1 494.2L91.8 494.8L93.7 495.2L94.1 496.5L94 497.9L93.9 499.4L93.8 500.9L93.8 502.4L93.7 504L93.6 505.6L93.7 507.2L93.8 508.7L94 510.2L94.3 511.8L94.6 513.2L95.1 514.7L95.7 516L96.4 517.2L97.2 518.4L98 519.6L98.9 520.7L100 521.6L101.2 522.4L102.5 523L103.9 523.6L105.6 523.7L107.7 523.5L109.8 523L111.8 522.6L113.8 522.1L115 522.6L115.3 524.4L115.2 526.7L115.3 529L115.5 531.2L115.8 533.4L116.4 535.3L117.3 536.5L118.4 537.6L119.5 538.6L120.7 539.4L122.1 540L123.5 540.3L125 540.5L126.6 540.4L128.2 540.4L129.8 540.2L131.4 539.7L133 539.2L134.7 538.5L136.4 537.5L137.9 537L139.1 537.6L140.1 539L141.2 540.6L142.3 542L143.4 543.4L144.6 544.8L145.9 546.1L147.2 547.3L148.6 547.8L150.2 546.5L151.8 544L153.4 541L154.8 537.7L156.2 533.4L157.4 529.4L158.5 525.5L159.4 521.8L160.3 520.2L161.4 521.5L162.7 524.5L164.1 527.5L165.5 530L167 532.4L168.4 533.9L169.8 534.7L171.2 535.3L172.6 535.9L174.1 536.4L175.5 536.8L176.9 537L178.3 537L179.6 536.8L180.9 536.6L182.3 536.4L183.7 536.3L185.1 536.5L186.7 536.7L188.3 537L190.1 537.6L191.9 538.2L193.6 538.4L195 538L196.4 537.6L197.8 537L199.1 536.4L200.2 535.5L201.3 534.4L202.2 533.2L203.2 532.1L204.3 531.1L205.5 530.5L207.1 530.2L208.9 530.1L210.5 529.8L212 529.3L213.4 528.7L214.8 528L216.1 527.2L217.5 526.4L218.8 525.6L220 524.7L221.2 523.7L222 522.3L222.5 520.8L223 519.3L223.9 518.1L224.9 516.9L225.8 515.8L226.7 514.6L227.6 513.4L228.5 512.1L229.1 510.8L229.7 509.4L230.1 507.9L230.5 506.4L230.8 504.9L230.8 503.2L230.8 501.6L230.9 500L231.5 498.7L232.5 497.6L233.8 496.6L235.3 495.7L237.3 494.9L239.4 494L241.2 493L242.7 491.9L244.2 490.7L245.5 489.4L246.6 488.1L247.5 486.7L248.4 485.2L249.3 483.7L250 482.2L250.8 480.7L251.5 479.1L252.1 477.5L252.8 475.9L253.4 474.3L254 472.7L254.6 471L255.2 469.3L255.7 467.6L256.2 465.9L256.5 464.2L256.8 462.5L257.3 460.7L257.9 458.9L258.5 457.1L259.2 455.3L259.8 453.4L260.2 451.6L260.7 449.7L261.1 447.8L261.4 445.9L261.7 443.9L262 442L262.3 440L262.4 438L262.4 436.1L262.2 434.2L261.9 432.3L261.5 430.4L261.1 428.5L260.6 426.6L260 424.8L259.5 423L258.9 421.1L258.2 419.3L257.5 417.5L256.7 415.8L255.8 414.1L254.7 412.5L253.6 410.9L252.4 409.3L251.3 407.8L250.1 406.3L248.8 404.8L247.5 403.4L246.1 402.1L244.5 400.9L242.6 400L240.8 399L239.2 397.9L237.8 396.7L236.4 395.5L235 394.3L233.7 393L232.4 391.7L231.2 390.4L229.9 389.1L228.6 387.8L227.3 386.6L226 385.3L224.7 384L223.4 382.7L222.2 381.3L220.9 380L219.5 378.8L218 377.6L216.5 376.5L215 375.5L213.5 374.5L211.9 373.5L210.2 372.8L208.3 372.3L206.4 372L204.5 371.7L202.5 371.7L200.5 371.8L198.5 371.9L196.5 372.2L194.4 372.5L192.4 372.9L190.4 373.4L188.5 373.9L186.6 374.4L184.8 374.7L183 374.9L181.3 375.1L179.6 375.1L178.1 374.7L176.5 374.2L175 373.6L173.5 372.9L172 372L170.5 370.7L169 369.4L167.5 368.2L165.9 367L164.3 365.9L162.6 365.1L160.9 364.4L159.2 363.8L157.4 363.5Z"/>
</g>
<rect x="292.1" y="446.8" width="50.8" height="34.4" fill="#fff" stroke="#b2b2b2" stroke-width="1.2"/>
<line x1="295.1" y1="453.2" x2="320.9" y2="453.2" stroke="#226fa8" stroke-width="1.6"/>
<text transform="translate(322.5 456.6) scale(0.9 1)" text-anchor="start" font-family='"Liberation Serif", serif' font-size="8.6" fill="#000" stroke="#000" stroke-width="0.2">2400</text>
<line x1="295.1" y1="463.7" x2="320.9" y2="463.7" stroke="#a06f55" stroke-width="2.1"/>
<text transform="translate(322.5 467.7) scale(0.9 1)" text-anchor="start" font-family='"Liberation Serif", serif' font-size="8.6" fill="#000" stroke="#000" stroke-width="0.2">2450</text>
<line x1="295.1" y1="474.5" x2="320.9" y2="474.5" stroke="#e6ae38" stroke-width="1.6"/>
<text transform="translate(322.5 477.5) scale(0.9 1)" text-anchor="start" font-family='"Liberation Serif", serif' font-size="8.6" fill="#000" stroke="#000" stroke-width="0.2">2500</text>
</g>
<g>
<g fill="none" stroke="#e6e6e6" stroke-width="0.7">
<circle cx="565" cy="464.2" r="22"/>
<circle cx="565" cy="464.2" r="44"/>
<circle cx="565" cy="464.2" r="66"/>
<circle cx="565" cy="464.2" r="88"/>
<circle cx="565" cy="464.2" r="110"/>
<line x1="565" y1="354.2" x2="565" y2="574.2"/>
<line x1="510" y1="368.9" x2="620" y2="559.5"/>
<line x1="469.7" y1="409.2" x2="660.3" y2="519.2"/>
<line x1="455" y1="464.2" x2="675" y2="464.2"/>
<line x1="469.7" y1="519.2" x2="660.3" y2="409.2"/>
<line x1="510" y1="559.5" x2="620" y2="368.9"/>
</g>
<text transform="translate(564.4 348.7) scale(0.92 1)" text-anchor="middle" font-family='"Liberation Serif", serif' font-size="9.0" fill="#050505">0</text>
<text transform="translate(502.3 364.1) scale(0.92 1)" text-anchor="middle" font-family='"Liberation Serif", serif' font-size="9.0" fill="#050505">30</text>
<text transform="translate(460.9 405.8) scale(0.92 1)" text-anchor="middle" font-family='"Liberation Serif", serif' font-size="9.0" fill="#050505">60</text>
<text transform="translate(445.8 467.9) scale(0.92 1)" text-anchor="middle" font-family='"Liberation Serif", serif' font-size="9.0" fill="#050505">90</text>
<text transform="translate(458.6 530.2) scale(0.92 1)" text-anchor="middle" font-family='"Liberation Serif", serif' font-size="9.0" fill="#050505">120</text>
<text transform="translate(499.4 572) scale(0.92 1)" text-anchor="middle" font-family='"Liberation Serif", serif' font-size="9.0" fill="#050505">150</text>
<text transform="translate(564.4 587.1) scale(0.92 1)" text-anchor="middle" font-family='"Liberation Serif", serif' font-size="9.0" fill="#050505">180</text>
<text transform="translate(627.6 572) scale(0.92 1)" text-anchor="middle" font-family='"Liberation Serif", serif' font-size="9.0" fill="#050505">210</text>
<text transform="translate(669.9 530.2) scale(0.92 1)" text-anchor="middle" font-family='"Liberation Serif", serif' font-size="9.0" fill="#050505">240</text>
<text transform="translate(684.8 467.9) scale(0.92 1)" text-anchor="middle" font-family='"Liberation Serif", serif' font-size="9.0" fill="#050505">270</text>
<text transform="translate(669.9 405.8) scale(0.92 1)" text-anchor="middle" font-family='"Liberation Serif", serif' font-size="9.0" fill="#050505">300</text>
<text transform="translate(628.5 364.1) scale(0.92 1)" text-anchor="middle" font-family='"Liberation Serif", serif' font-size="9.0" fill="#050505">330</text>
<text transform="translate(564.3 467.5) scale(0.92 1)" text-anchor="middle" font-family='"Liberation Serif", serif' font-size="9.0" fill="#050505">-50</text>
<text transform="translate(568.1 445.8) scale(0.92 1)" text-anchor="middle" font-family='"Liberation Serif", serif' font-size="9.0" fill="#050505">-40</text>
<text transform="translate(571.9 424.1) scale(0.92 1)" text-anchor="middle" font-family='"Liberation Serif", serif' font-size="9.0" fill="#050505">-30</text>
<text transform="translate(575.8 402.5) scale(0.92 1)" text-anchor="middle" font-family='"Liberation Serif", serif' font-size="9.0" fill="#050505">-20</text>
<text transform="translate(579.6 380.8) scale(0.92 1)" text-anchor="middle" font-family='"Liberation Serif", serif' font-size="9.0" fill="#050505">-10</text>
<text transform="translate(583.4 359.1) scale(0.92 1)" text-anchor="middle" font-family='"Liberation Serif", serif' font-size="9.0" fill="#050505">0</text>
<g fill="none" stroke-linejoin="round">
<path stroke="#226fa8" stroke-width="1.7" d="M560.3 373.9L556.3 378.6L550.9 377.2L544.2 388L536.1 381.3L528 382.6L520 377.3L513.9 375.2L509.2 377.9L503.8 381.3L497.1 382L491.7 383.3L488.3 388L486.3 396.1L483.6 404.2L478.2 408.2L471.5 412.2L464.8 419L460.1 428.4L458.1 437.8L458.7 445.9L461.4 453.9L465.5 459L465.5 462L472.9 469.8L480.3 477.8L476.2 483.2L474.9 489.9L476.2 498L482.3 504.1L490.4 506.1L497.1 506.1L493 515.5L493.1 520.9L499.8 522.2L507.8 523.6L509.2 534.3L511.9 537L520 530.3L527.4 524.9L530.7 540.4L538.8 527.6L546.9 515.5L548.9 539L554.9 522.2L560.3 519.5L563 526.3L565 524.9L568.7 535.7L573.5 523.6L585.6 540.4L588.3 533L590.3 532.3L591.6 526.3L595.2 524.9L599 529.6L599 520.2L603.1 520.2L606.4 512.8L611.1 511.2L617.9 514.2L623.9 516.8L627.3 512.8L629.3 509.4L631.3 506.1L629.3 500.7L623.9 496.3L616.5 490.2L621.9 492L630 492.6L639.4 492.4L646.1 489.9L654.2 483.2L662.2 472.5L666.9 463.3L667.6 459L669.6 453.9L671 443.2L669.6 433.8L664.9 426.4L656.9 420.3L647.4 414.9L640.7 408.2L632.6 400.1L625.3 397.2L617.9 399.9L611.8 399.5L605.7 401.5L598.3 406.9L595.6 406.2L599 388L590.3 384.6L586.9 379.3L582.9 375.2L574.8 375.9L570.8 373.9L565.4 372.5L560.3 373.9Z"/>
<path stroke="#cb592a" stroke-width="1.7" d="M561.7 379.9L556.3 379.3L550.9 377.9L546.9 377.9L542.8 379.9L536.1 378.6L530.7 379.3L525.3 382L520 381.3L514.6 379.3L509.2 377.9L505.2 381.3L502.5 386.7L495.7 388.7L489 391.4L486.3 398.8L485 406.8L478.2 409.5L471.5 412.9L464.8 419L460.1 428.4L457.8 437.8L458.3 445.9L460.8 453.9L465.5 459L464.8 462L472.2 470.4L478.9 479.2L474.2 485.9L473.6 492.6L476.2 498.7L483.6 502.1L493 502.3L501.1 501.4L496.4 513.5L495.7 519.5L502.5 520.2L510.5 518.2L513.9 524.9L513.2 533L521.3 527.6L529.4 523.6L531.4 537.7L538.8 528.9L543.5 522.2L546.9 535.7L552.2 522.2L557 514.2L561 533.7L562 533.7L565.4 522.2L573.5 518.2L582.2 527.6L584.2 514.2L592.3 524.9L592.3 504.1L604.4 518.2L609.1 518.2L609.8 511.5L616.5 512.1L623.2 514.8L628.6 514.8L630 510.8L627.3 504.7L624.6 500L619.9 495.3L625.9 495.6L632.7 496L639.4 495.3L646.1 492.6L652.8 487.3L659.5 479.2L664.9 469.8L666.9 463.3L668.3 459L669.2 453.9L670.6 443.2L669 433.8L664.3 426.4L656.9 421L648.8 419L640.7 418.3L634.7 419L630 411.6L630 404.8L625.9 403.5L617.8 404.8L609.1 407.5L606.4 399.4L596.6 404.8L596.3 394.1L590.9 395.4L588.9 384.6L586.2 382L582.9 380.6L577.5 384L573.5 379.9L568.7 378.6L565.5 382L561.7 379.9Z"/>
<path stroke="#e6ae38" stroke-width="1.7" d="M560.3 380.6L556.3 380.6L552.2 383.3L549.5 379.3L545.5 381.3L541.5 391.4L536.1 387.4L530.7 385.3L525.3 384.7L520 382.6L514.6 380.6L509.2 379.3L505.2 382.6L501.8 387.3L495.7 389.4L489 392L487.7 400.1L485.7 408.2L479.6 412.2L472.9 415.6L466.1 420.3L461.4 429L458.7 437.8L459.2 445.9L461.4 453.9L464.8 459L466.1 463.4L471.5 470.4L479.6 480.5L483 485.9L481.6 494L485.6 498L494.4 499.4L501.1 498.7L508.5 496.7L505.2 504.8L502.5 511.5L503.8 517.5L510.5 515.5L514.6 514.8L517.3 519.5L520 525.6L525.3 524.9L532.1 523.6L537.4 524.9L542.8 524.9L545.5 532.3L550.9 527.6L557.6 524.9L561.7 522.2L565 518.2L568.7 524.9L573.5 522.2L580.2 526.3L584.9 514.2L593.6 524.9L596.3 510.8L607.8 523.6L609.1 515.5L603 506.1L609.8 508.1L616.5 512.1L623.2 514.8L626.6 512.1L626.6 506.1L625.9 500.7L623.2 496L627.3 497.3L634 498.7L640.7 496L647.4 492.6L654.2 487.2L660.9 479.2L666.3 469.8L667.2 463.3L669 459L669.6 453.9L671 443.2L669 435.1L663.6 427L655.5 421.6L646.1 420.3L638 420.3L629.9 416.3L613.8 419.6L619.9 406.8L609.1 407.5L609.8 394.8L594.3 402.1L587.6 404.2L586.9 385.3L576.8 388.7L574.1 382L566.7 384L565.7 384L560.3 380.6Z"/>
</g>
<rect x="699.7" y="446.8" width="50.8" height="34.4" fill="#fff" stroke="#b2b2b2" stroke-width="1.2"/>
<line x1="702.7" y1="453.2" x2="728.5" y2="453.2" stroke="#226fa8" stroke-width="1.6"/>
<text transform="translate(730.1 456.6) scale(0.9 1)" text-anchor="start" font-family='"Liberation Serif", serif' font-size="8.6" fill="#000" stroke="#000" stroke-width="0.2">5000</text>
<line x1="702.7" y1="463.7" x2="728.5" y2="463.7" stroke="#a06f55" stroke-width="2.1"/>
<text transform="translate(730.1 467.7) scale(0.9 1)" text-anchor="start" font-family='"Liberation Serif", serif' font-size="8.6" fill="#000" stroke="#000" stroke-width="0.2">5200</text>
<line x1="702.7" y1="474.5" x2="728.5" y2="474.5" stroke="#e6ae38" stroke-width="1.6"/>
<text transform="translate(730.1 477.5) scale(0.9 1)" text-anchor="start" font-family='"Liberation Serif", serif' font-size="8.6" fill="#000" stroke="#000" stroke-width="0.2">5400</text>
</g>
<g>
<g fill="none" stroke="#e6e6e6" stroke-width="0.7">
<circle cx="975.4" cy="464.2" r="22"/>
<circle cx="975.4" cy="464.2" r="44"/>
<circle cx="975.4" cy="464.2" r="66"/>
<circle cx="975.4" cy="464.2" r="88"/>
<circle cx="975.4" cy="464.2" r="110"/>
<line x1="975.4" y1="354.2" x2="975.4" y2="574.2"/>
<line x1="920.4" y1="368.9" x2="1030.4" y2="559.5"/>
<line x1="880.1" y1="409.2" x2="1070.7" y2="519.2"/>
<line x1="865.4" y1="464.2" x2="1085.4" y2="464.2"/>
<line x1="880.1" y1="519.2" x2="1070.7" y2="409.2"/>
<line x1="920.4" y1="559.5" x2="1030.4" y2="368.9"/>
</g>
<text transform="translate(974.8 348.7) scale(0.92 1)" text-anchor="middle" font-family='"Liberation Serif", serif' font-size="9.0" fill="#050505">0</text>
<text transform="translate(912.7 364.1) scale(0.92 1)" text-anchor="middle" font-family='"Liberation Serif", serif' font-size="9.0" fill="#050505">30</text>
<text transform="translate(871.3 405.8) scale(0.92 1)" text-anchor="middle" font-family='"Liberation Serif", serif' font-size="9.0" fill="#050505">60</text>
<text transform="translate(856.2 467.9) scale(0.92 1)" text-anchor="middle" font-family='"Liberation Serif", serif' font-size="9.0" fill="#050505">90</text>
<text transform="translate(869 530.2) scale(0.92 1)" text-anchor="middle" font-family='"Liberation Serif", serif' font-size="9.0" fill="#050505">120</text>
<text transform="translate(909.8 572) scale(0.92 1)" text-anchor="middle" font-family='"Liberation Serif", serif' font-size="9.0" fill="#050505">150</text>
<text transform="translate(974.8 587.1) scale(0.92 1)" text-anchor="middle" font-family='"Liberation Serif", serif' font-size="9.0" fill="#050505">180</text>
<text transform="translate(1038 572) scale(0.92 1)" text-anchor="middle" font-family='"Liberation Serif", serif' font-size="9.0" fill="#050505">210</text>
<text transform="translate(1080.3 530.2) scale(0.92 1)" text-anchor="middle" font-family='"Liberation Serif", serif' font-size="9.0" fill="#050505">240</text>
<text transform="translate(1095.2 467.9) scale(0.92 1)" text-anchor="middle" font-family='"Liberation Serif", serif' font-size="9.0" fill="#050505">270</text>
<text transform="translate(1080.3 405.8) scale(0.92 1)" text-anchor="middle" font-family='"Liberation Serif", serif' font-size="9.0" fill="#050505">300</text>
<text transform="translate(1038.9 364.1) scale(0.92 1)" text-anchor="middle" font-family='"Liberation Serif", serif' font-size="9.0" fill="#050505">330</text>
<text transform="translate(974.7 467.5) scale(0.92 1)" text-anchor="middle" font-family='"Liberation Serif", serif' font-size="9.0" fill="#050505">-50</text>
<text transform="translate(978.5 445.8) scale(0.92 1)" text-anchor="middle" font-family='"Liberation Serif", serif' font-size="9.0" fill="#050505">-40</text>
<text transform="translate(982.3 424.1) scale(0.92 1)" text-anchor="middle" font-family='"Liberation Serif", serif' font-size="9.0" fill="#050505">-30</text>
<text transform="translate(986.2 402.5) scale(0.92 1)" text-anchor="middle" font-family='"Liberation Serif", serif' font-size="9.0" fill="#050505">-20</text>
<text transform="translate(990 380.8) scale(0.92 1)" text-anchor="middle" font-family='"Liberation Serif", serif' font-size="9.0" fill="#050505">-10</text>
<text transform="translate(993.8 359.1) scale(0.92 1)" text-anchor="middle" font-family='"Liberation Serif", serif' font-size="9.0" fill="#050505">0</text>
<g fill="none" stroke-linejoin="round">
<path stroke="#226fa8" stroke-width="1.7" d="M975.2 364.5L970.3 367.2L966.3 366.5L960.9 369.2L955.5 372.5L950.1 372.5L946.8 379.3L942.7 381L936.7 375.9L930 374.8L923.2 374.6L916.5 374.3L911.8 377.9L907.8 382L903 383.3L897 386L895.7 392L896.3 398.8L894.3 405.5L891.6 410.9L886.9 412.9L880.2 416.3L874.8 421L871.4 427L869.7 435.1L869.4 443.2L870.8 451.2L873.4 458L872.8 459L877.5 464.7L880.2 467.1L886.9 476.5L894.3 485.2L893.6 491.3L896.3 498L904.4 499.4L912.5 496.7L919.2 494.7L913.8 503.4L911.8 510.8L916.5 515.5L922.6 515.5L923.2 527.6L931.3 523.6L939.4 518.2L940.7 529.6L947.4 522.2L953.5 516.8L952.8 535.7L956.9 535.7L961.6 527.6L967.6 533.7L971.7 523.6L975.5 529.6L978.6 535.7L981.4 523.6L984.8 524.9L990.9 538.4L992.2 517.5L998.3 523.6L1003.6 529L1009.7 533.7L1013 530.3L1013.7 525.6L1016.4 521.6L1020.4 520.2L1021.8 510.8L1031.9 510.8L1037.3 512.8L1042.7 512.8L1044.7 509.5L1044.7 504.1L1048 501.4L1054.1 498.7L1060.1 493.3L1064.9 485.9L1066.9 476.5L1064.8 467.2L1061.8 459.2L1063.5 452.6L1066.9 445.9L1067.5 437.8L1064.2 431.1L1058.8 427.7L1053.4 427.3L1046.7 427.7L1043.3 423.7L1040 416.3L1033.9 410.9L1032.6 399.4L1027.9 399.4L1024.9 396.1L1024.5 388L1021.8 382.6L1015.7 384.7L1010.4 383.3L1007.7 376.6L1002.3 373.2L996.9 369.8L991.5 366.2L986.1 366.5L980.8 365.8L975.2 364.5Z"/>
<path stroke="#cb592a" stroke-width="1.7" d="M975.2 359.9L970.3 363.1L966.3 366.5L960.9 369.2L955.5 373.9L951.5 372.5L946.1 371.2L942.1 374.6L936.7 374.6L930 375.9L925.9 379.9L919.2 379.9L913.8 384L910.4 388L906.4 395.4L897.7 397.4L893.6 400.8L891.6 406.9L891.6 410.2L886.9 413.6L880.2 416.9L874.8 421.6L871 428.4L868.3 436.5L868.1 444.5L869.7 452.6L872.8 459.2L876.8 465.4L880.2 467.7L886.9 477.2L893.6 485.2L895.6 490.6L900.3 492.6L908.4 494L916.5 494.7L922.6 493.3L916.5 501.4L911.1 508.1L911.8 510.8L920.5 508.1L928.6 504.7L938 498L948.8 489.9L939.4 503.4L932 512.8L929.3 518.2L930.6 520.9L936.7 515.5L943.4 510.8L942.1 520.9L948.8 515.5L955.5 510.1L955.5 524.9L960.2 516.9L964.9 508.1L967.6 521.6L972.2 505.7L975.5 528.9L980.1 511.5L986.1 531.6L990.2 524.2L994.2 525.6L996.9 524.9L1002.3 529.6L1006.3 533.7L1010.4 531.6L1013 527.6L1015.7 526.3L1021.8 529L1023.8 516.8L1031.2 518.9L1037.9 520.2L1039.3 515.5L1037.3 512.8L1033.9 506.1L1040.6 506.1L1046 504.1L1050.7 499.4L1050.7 494L1046.7 487.2L1042 481.2L1049.4 479.2L1056.1 476.5L1064.2 472.4L1072.2 465.9L1076.3 460.7L1077.6 459L1079.7 452.6L1080.6 443.2L1079.6 435.1L1077 428.4L1072.2 422.3L1066.9 416.9L1062.8 412.2L1060.1 403.5L1056.8 399.4L1052.1 397.7L1046 395.4L1041.3 390.7L1035.9 386.4L1027.8 384.3L1023.1 380.6L1018.4 377.9L1012.4 380.2L1009 375.9L1005.7 370.5L1002.3 369.9L996.9 367.8L991.5 361.4L986.1 361.8L980.8 361.8L975.2 359.9Z"/>
</g>
<rect x="1110.1" y="452.1" width="50.8" height="24.1" fill="#fff" stroke="#b2b2b2" stroke-width="1.2"/>
<line x1="1113.1" y1="458.7" x2="1138.9" y2="458.7" stroke="#226fa8" stroke-width="1.6"/>
<text transform="translate(1140.5 462.2) scale(0.9 1)" text-anchor="start" font-family='"Liberation Serif", serif' font-size="8.6" fill="#000" stroke="#000" stroke-width="0.2">5600</text>
<line x1="1113.1" y1="469.4" x2="1138.9" y2="469.4" stroke="#cb592a" stroke-width="1.6"/>
<text transform="translate(1140.5 472.9) scale(0.9 1)" text-anchor="start" font-family='"Liberation Serif", serif' font-size="8.6" fill="#000" stroke="#000" stroke-width="0.2">5800</text>
</g>
<g>
<g fill="none" stroke="#e6e6e6" stroke-width="0.7">
<circle cx="157.4" cy="765.9" r="22"/>
<circle cx="157.4" cy="765.9" r="44"/>
<circle cx="157.4" cy="765.9" r="66"/>
<circle cx="157.4" cy="765.9" r="88"/>
<circle cx="157.4" cy="765.9" r="110"/>
<line x1="157.4" y1="655.9" x2="157.4" y2="875.9"/>
<line x1="102.4" y1="670.6" x2="212.4" y2="861.2"/>
<line x1="62.1" y1="710.9" x2="252.7" y2="820.9"/>
<line x1="47.4" y1="765.9" x2="267.4" y2="765.9"/>
<line x1="62.1" y1="820.9" x2="252.7" y2="710.9"/>
<line x1="102.4" y1="861.2" x2="212.4" y2="670.6"/>
</g>
<text transform="translate(156.8 650.4) scale(0.92 1)" text-anchor="middle" font-family='"Liberation Serif", serif' font-size="9.0" fill="#050505">0</text>
<text transform="translate(94.7 665.8) scale(0.92 1)" text-anchor="middle" font-family='"Liberation Serif", serif' font-size="9.0" fill="#050505">30</text>
<text transform="translate(53.3 707.5) scale(0.92 1)" text-anchor="middle" font-family='"Liberation Serif", serif' font-size="9.0" fill="#050505">60</text>
<text transform="translate(38.2 769.6) scale(0.92 1)" text-anchor="middle" font-family='"Liberation Serif", serif' font-size="9.0" fill="#050505">90</text>
<text transform="translate(51 831.9) scale(0.92 1)" text-anchor="middle" font-family='"Liberation Serif", serif' font-size="9.0" fill="#050505">120</text>
<text transform="translate(91.8 873.7) scale(0.92 1)" text-anchor="middle" font-family='"Liberation Serif", serif' font-size="9.0" fill="#050505">150</text>
<text transform="translate(156.8 888.8) scale(0.92 1)" text-anchor="middle" font-family='"Liberation Serif", serif' font-size="9.0" fill="#050505">180</text>
<text transform="translate(220 873.7) scale(0.92 1)" text-anchor="middle" font-family='"Liberation Serif", serif' font-size="9.0" fill="#050505">210</text>
<text transform="translate(262.3 831.9) scale(0.92 1)" text-anchor="middle" font-family='"Liberation Serif", serif' font-size="9.0" fill="#050505">240</text>
<text transform="translate(277.2 769.6) scale(0.92 1)" text-anchor="middle" font-family='"Liberation Serif", serif' font-size="9.0" fill="#050505">270</text>
<text transform="translate(262.3 707.5) scale(0.92 1)" text-anchor="middle" font-family='"Liberation Serif", serif' font-size="9.0" fill="#050505">300</text>
<text transform="translate(220.9 665.8) scale(0.92 1)" text-anchor="middle" font-family='"Liberation Serif", serif' font-size="9.0" fill="#050505">330</text>
<text transform="translate(156.7 769.2) scale(0.92 1)" text-anchor="middle" font-family='"Liberation Serif", serif' font-size="9.0" fill="#050505">-50</text>
<text transform="translate(160.5 747.5) scale(0.92 1)" text-anchor="middle" font-family='"Liberation Serif", serif' font-size="9.0" fill="#050505">-40</text>
<text transform="translate(164.3 725.8) scale(0.92 1)" text-anchor="middle" font-family='"Liberation Serif", serif' font-size="9.0" fill="#050505">-30</text>
<text transform="translate(168.2 704.2) scale(0.92 1)" text-anchor="middle" font-family='"Liberation Serif", serif' font-size="9.0" fill="#050505">-20</text>
<text transform="translate(172 682.5) scale(0.92 1)" text-anchor="middle" font-family='"Liberation Serif", serif' font-size="9.0" fill="#050505">-10</text>
<text transform="translate(175.8 660.8) scale(0.92 1)" text-anchor="middle" font-family='"Liberation Serif", serif' font-size="9.0" fill="#050505">0</text>
<g fill="none" stroke-linejoin="round">
<path stroke="#226fa8" stroke-width="1.7" d="M157.4 669.2L156.4 669.2L149.6 668.2L142.9 667.4L136.2 667.4L129.4 667.8L122.7 669.8L116 673.2L109.3 676.6L102.5 679.9L95.8 685.3L89.1 691.4L82.3 696.7L75.6 701.4L70.3 707.5L66.2 714.2L63.5 722.3L62.2 730.4L62.9 738.4L64.9 746.5L67.6 754.6L70.2 761L71.6 762.7L74.3 767.7L79.7 773.1L85.1 775.1L87.7 777.8L84.4 782.5L81.7 790.6L81.7 798.7L84.4 804L87.1 810.1L93.8 813.5L99.8 814.8L103.9 816.2L106.6 817.5L106.6 828.3L112 833.6L116 835.7L122.7 833L129.4 825.6L133.5 827.6L134.1 836.3L137.5 841.7L141.5 839L145.6 840.4L149.6 834.3L154.3 826.9L157.4 827.6L158.4 828.3L161.4 829.6L164.1 834.3L166.8 829.6L168.8 825.6L170.8 828.3L174.9 834.3L179.6 838.3L183.6 837L189 836.3L191 832.3L190.3 824.2L192.4 822.2L196.4 824.2L201.8 826.2L207.1 828.3L212.5 827.6L217.2 823.5L221.3 819.5L224 813.5L224 806.1L228.7 804.7L233.4 802L239.5 796.7L245.5 789.3L251.6 780.5L256.9 770.4L259.6 765.3L260.3 761L262.3 757.3L263.7 747.9L263.4 738.4L261 729L256.9 719.6L251.5 710.5L244.8 703.7L238.1 698.4L231.4 693.8L224.6 688.4L217.9 681.7L211.2 675.9L205.8 674.5L199.1 674.6L192.4 675.9L185.6 677.9L178.9 678.6L173.5 675.9L168.1 671.8L162.8 669.2L157.4 669.2Z"/>
<path stroke="#c05a2c" stroke-width="1.8" d="M157.4 675.2L156.3 674.5L149.6 672.5L142.9 671.2L136.2 671.9L129.4 672.5L122.7 673.2L116 674.1L109.3 676.8L102.5 680.3L95.8 685.3L89.1 691.4L82.3 696.7L75.6 701.4L70.3 707.5L66.2 714.2L63.5 722.3L62.2 730.4L62.9 738.4L64.9 746.5L67.6 754.6L70.2 761L71.6 762.7L74.3 767.7L79.7 773.8L85.1 777.1L91.1 779.8L87.1 785.2L82.3 791.9L81.7 798.7L84.4 805.4L85.7 812.1L90.4 815.5L97.2 816.2L103.9 814.8L109.9 812.8L108.6 820.2L110.6 828.3L116 835.7L122.7 833L129.4 825.6L134.8 818.8L138.9 813.5L136.8 824.2L136.2 832.3L138.9 838.3L142.2 835.7L146.3 838.4L149.6 834.3L153.7 828.3L157.3 832L160.7 834.3L163.4 831L165.5 824.2L168.1 823.6L170.8 828.3L174.9 834.3L180.2 838.4L185.6 839.7L191 839L191.7 832.3L190.3 824.2L191.7 819.5L196.4 822.9L201.8 826.2L207.1 828.3L212.5 827.6L217.9 823.5L222 818.8L223.3 813.5L222 808.1L225.3 804.7L231.4 800.7L238.1 794.6L244.8 787.9L251.5 779.8L256.9 770.4L259.6 765.3L260.3 761L262.3 757.3L263.7 747.9L263.4 738.4L261 729L256.9 719.6L251.5 710.5L244.8 703.7L238.1 698.4L231.4 693.8L224.6 688.4L217.9 681.7L211.2 676.8L205.8 675.5L199.1 675.9L192.4 677.2L185.6 678.6L178.9 679L173.5 677.2L168.2 675.5L162.8 675L157.4 675.2Z"/>
<path stroke="#e6ae38" stroke-width="1.6" d="M157.4 678.6L156.4 677.9L149.6 674.5L142.9 673.2L136.2 673.2L129.4 673.9L122.7 674.1L116 674.9L109.3 677.6L102.5 681.3L95.8 686.2L89.1 692L82.4 697.4L75.6 702.4L70.9 708.2L67.3 714.9L64.9 722.3L63.5 730.4L63.9 738.4L66 746.5L68.6 754.6L70.5 761L72.7 762.7L74.5 767.7L79.9 773.8L85.3 777.4L91.5 780.1L87.5 785.5L82.8 792.2L82.1 798.9L84.8 805.7L86.1 812.4L90.7 815.9L97.4 816.7L104.2 815.3L110.6 813.2L109.3 820.5L111.2 828.5L116.3 836.1L122.7 833.4L129.4 826.1L135.1 819.1L139.4 813.2L137.5 824.2L136.8 832.3L139.4 838.8L142.6 836.1L146.7 839L149.9 835L153.9 828.9L157.3 832.8L160.1 835L162.8 831L165.5 823.6L167.5 822.9L170.8 828.3L174.9 835L180.2 839L185.6 840.4L190.3 840.4L191 832.3L189 820.2L191 818.9L196.4 822.9L201.8 826.9L207.1 828.9L212.5 827.6L218.6 823.6L222.2 818.9L222.6 813.5L220.6 808.1L223.3 804.1L230 798.7L236.8 793.3L244.2 787.2L250.9 779.8L256.7 770.4L259.6 765.3L260.3 761L262.3 757.3L263.7 747.9L263.4 738.4L261 729L256.9 719.6L251.6 711.5L244.8 704.8L238.1 700.1L231.4 696.1L224.6 690.7L217.9 684L211.2 678.6L205.8 677.2L199.1 677.9L192.4 679.3L185.6 680.3L178.9 680.6L173.5 679.9L168.1 679L162.8 678.6L157.4 678.6Z"/>
</g>
<rect x="292.1" y="748.9" width="50.8" height="34.4" fill="#fff" stroke="#b2b2b2" stroke-width="1.2"/>
<line x1="295.1" y1="755.3" x2="320.9" y2="755.3" stroke="#226fa8" stroke-width="1.6"/>
<text transform="translate(322.5 758.7) scale(0.9 1)" text-anchor="start" font-family='"Liberation Serif", serif' font-size="8.6" fill="#000" stroke="#000" stroke-width="0.2">2400</text>
<line x1="295.1" y1="765.8" x2="320.9" y2="765.8" stroke="#a06f55" stroke-width="2.1"/>
<text transform="translate(322.5 769.8) scale(0.9 1)" text-anchor="start" font-family='"Liberation Serif", serif' font-size="8.6" fill="#000" stroke="#000" stroke-width="0.2">2450</text>
<line x1="295.1" y1="776.6" x2="320.9" y2="776.6" stroke="#e6ae38" stroke-width="1.6"/>
<text transform="translate(322.5 779.6) scale(0.9 1)" text-anchor="start" font-family='"Liberation Serif", serif' font-size="8.6" fill="#000" stroke="#000" stroke-width="0.2">2500</text>
</g>
<g>
<g fill="none" stroke="#e6e6e6" stroke-width="0.7">
<circle cx="565" cy="765.9" r="22"/>
<circle cx="565" cy="765.9" r="44"/>
<circle cx="565" cy="765.9" r="66"/>
<circle cx="565" cy="765.9" r="88"/>
<circle cx="565" cy="765.9" r="110"/>
<line x1="565" y1="655.9" x2="565" y2="875.9"/>
<line x1="510" y1="670.6" x2="620" y2="861.2"/>
<line x1="469.7" y1="710.9" x2="660.3" y2="820.9"/>
<line x1="455" y1="765.9" x2="675" y2="765.9"/>
<line x1="469.7" y1="820.9" x2="660.3" y2="710.9"/>
<line x1="510" y1="861.2" x2="620" y2="670.6"/>
</g>
<text transform="translate(564.4 650.4) scale(0.92 1)" text-anchor="middle" font-family='"Liberation Serif", serif' font-size="9.0" fill="#050505">0</text>
<text transform="translate(502.3 665.8) scale(0.92 1)" text-anchor="middle" font-family='"Liberation Serif", serif' font-size="9.0" fill="#050505">30</text>
<text transform="translate(460.9 707.5) scale(0.92 1)" text-anchor="middle" font-family='"Liberation Serif", serif' font-size="9.0" fill="#050505">60</text>
<text transform="translate(445.8 769.6) scale(0.92 1)" text-anchor="middle" font-family='"Liberation Serif", serif' font-size="9.0" fill="#050505">90</text>
<text transform="translate(458.6 831.9) scale(0.92 1)" text-anchor="middle" font-family='"Liberation Serif", serif' font-size="9.0" fill="#050505">120</text>
<text transform="translate(499.4 873.7) scale(0.92 1)" text-anchor="middle" font-family='"Liberation Serif", serif' font-size="9.0" fill="#050505">150</text>
<text transform="translate(564.4 888.8) scale(0.92 1)" text-anchor="middle" font-family='"Liberation Serif", serif' font-size="9.0" fill="#050505">180</text>
<text transform="translate(627.6 873.7) scale(0.92 1)" text-anchor="middle" font-family='"Liberation Serif", serif' font-size="9.0" fill="#050505">210</text>
<text transform="translate(669.9 831.9) scale(0.92 1)" text-anchor="middle" font-family='"Liberation Serif", serif' font-size="9.0" fill="#050505">240</text>
<text transform="translate(684.8 769.6) scale(0.92 1)" text-anchor="middle" font-family='"Liberation Serif", serif' font-size="9.0" fill="#050505">270</text>
<text transform="translate(669.9 707.5) scale(0.92 1)" text-anchor="middle" font-family='"Liberation Serif", serif' font-size="9.0" fill="#050505">300</text>
<text transform="translate(628.5 665.8) scale(0.92 1)" text-anchor="middle" font-family='"Liberation Serif", serif' font-size="9.0" fill="#050505">330</text>
<text transform="translate(564.3 769.2) scale(0.92 1)" text-anchor="middle" font-family='"Liberation Serif", serif' font-size="9.0" fill="#050505">-50</text>
<text transform="translate(568.1 747.5) scale(0.92 1)" text-anchor="middle" font-family='"Liberation Serif", serif' font-size="9.0" fill="#050505">-40</text>
<text transform="translate(571.9 725.8) scale(0.92 1)" text-anchor="middle" font-family='"Liberation Serif", serif' font-size="9.0" fill="#050505">-30</text>
<text transform="translate(575.8 704.2) scale(0.92 1)" text-anchor="middle" font-family='"Liberation Serif", serif' font-size="9.0" fill="#050505">-20</text>
<text transform="translate(579.6 682.5) scale(0.92 1)" text-anchor="middle" font-family='"Liberation Serif", serif' font-size="9.0" fill="#050505">-10</text>
<text transform="translate(583.4 660.8) scale(0.92 1)" text-anchor="middle" font-family='"Liberation Serif", serif' font-size="9.0" fill="#050505">0</text>
<g fill="none" stroke-linejoin="round">
<path stroke="#226fa8" stroke-width="1.7" d="M560.3 677.2L556.3 683.3L550.9 681.9L546.9 691.4L542.8 696.7L537.4 698.8L532.1 701.4L528 698.8L524 695.4L518.6 694L515.9 697.4L511.9 700.8L506.5 698.7L501.1 698.1L495.7 698.1L490.4 698.4L486.3 702.1L482.3 707.5L476.9 711.5L470.2 715.6L464.8 721L462.1 727.7L461 735.8L462.8 743.8L466.2 751.9L470.2 760L470.2 761L473.5 766.7L475.6 770.4L481 778.5L487.7 783.9L494.4 786.6L501.1 788.6L508.5 790.6L505.2 797.3L501.8 804L506.5 803.4L511.2 805.4L513.9 809.4L511.9 818.8L517.3 816.2L521.3 814.8L520.6 820.2L523.3 829.6L526.7 826.9L530.7 824.2L531.4 833.6L534.1 836.3L538.8 834.3L542.8 840.4L546.9 843.1L550.9 844.4L556.3 840.4L561 840.4L565 845.8L568.7 841.7L573.5 837L578.8 840.4L584.9 841.7L586.9 832.3L590.9 831.6L596.3 835L600.4 837L600.4 825.6L598.3 816.8L603.1 820.9L609.8 824.9L615.2 827.6L619.2 821.5L617.9 814.8L613.8 806.7L616.5 806.7L621.9 808.8L627.3 811.5L632.6 810.1L637.4 804L640.7 799.3L640.1 791.9L640.7 785.2L646.1 781.2L652.8 777.2L659.6 770.4L664.9 762.7L664.9 761L668.3 754.6L670.3 745.2L669.6 735.8L666.3 729.7L660.9 725L655.5 720.9L650.1 716.9L649.5 711.5L646.1 706.1L642.1 702.8L636.7 701.4L633.3 698.1L632 694L628.6 690L624.6 684.6L621.9 679.3L617.8 673.2L611.1 668.5L604.4 663.8L597.7 661.1L591 660.4L584.2 660.7L577.5 661.8L570.8 665.1L565.2 673.2L560.3 677.2Z"/>
<path stroke="#cb592a" stroke-width="1.7" d="M560.3 679.3L556.3 684.6L550.9 682.6L545.5 683.3L542.2 684.6L540.1 690L536.1 691.4L530 687.3L528.7 694L526 696.7L519.9 696.7L514.6 698.8L507.9 698.8L501.1 698.1L495.7 697.8L490.4 698.1L486.3 701.5L482.3 706.8L476.9 710.9L470.2 714.9L464.8 720.3L461.4 727.7L460.5 735.8L462.1 743.8L466.1 751.2L470.9 759.3L472.2 761L474.2 766L477.6 771.1L481.6 778.5L487.7 783.9L494.4 787.2L500.4 789.9L506.5 792.6L511.2 793.3L506.5 800L501.1 806.7L507.8 805.4L513.2 804.1L519.9 802L515.9 810.1L513.2 815.5L520 814.1L526.7 812.1L524.7 817.5L525.3 822.9L530.7 823.6L534.1 824.2L536.1 832.3L540.1 836.3L544.2 837.7L546.9 833.6L548.9 843.1L551.6 847.1L556.3 841.7L561.7 840.4L565 844.4L568.7 841.7L573.5 834.3L578.8 837L584.9 841.7L586.9 827.6L593 833L597.7 837.7L601 837L601.7 828.3L601 821.5L604.4 822.2L609.8 824.9L615.2 826.9L618.5 820.9L615.8 814.8L611.8 807.4L613.8 806.1L620.5 808.1L627.3 811.5L635.3 810.8L640 808.8L638.7 801.4L634 796L636 788.6L643.4 787.2L650.1 783.2L656.9 777.1L663.6 769.1L667.6 762.7L668.3 761L671 754.6L672.3 745.2L671 737.1L666.3 730.4L659.6 725.7L652.8 721.6L648.1 717.6L646.1 712.9L642.1 709.5L638 708.9L632.6 704.8L627.3 701.5L628.6 694L623.9 690.7L621.9 688L619.9 681.9L617.9 675.9L611.1 671.2L605.7 665.8L600.4 662.4L595 663.1L588.3 662.4L581.5 662.4L576.1 665.1L570.8 669.2L565.2 675.2L560.3 679.3Z"/>
<path stroke="#e6ae38" stroke-width="1.7" d="M560.3 680.6L556.3 685.3L552.2 680.6L546.9 679.9L542.2 678.6L537.4 681.3L532.1 683.3L528.7 685.3L527.3 691.4L527.7 699.1L524.7 704.1L520 701.5L515.9 698.8L511.9 699.4L507.8 702.1L503.8 700.8L497.1 698.8L490.4 698.1L486.3 701.5L482.3 706.2L476.9 710.2L470.2 714.2L464.8 719.6L461.4 727.7L460.1 735.8L461.4 743.8L465.5 750.5L471.5 758.6L473.5 761L475.5 765.4L478.9 770.4L478.3 777.8L481.6 783.9L487.7 787.2L494.4 787.2L502.5 785.9L499.8 791.3L496.4 796.2L503.8 795.3L511.9 794.6L515.9 797.3L516.6 801.4L514.6 807.4L513.2 816.2L519.9 812.8L526.7 808.8L533.4 804.7L531.4 813.5L530.7 820.2L536.1 817.5L542.1 814.8L542.8 824.2L543.5 830.9L548.2 828.3L550.2 833.7L554.3 841.7L558.3 839L563 836.3L564 835.7L568.1 838.3L573.4 832.3L577.5 831L582.9 837L587.6 824.2L592.3 831L596.3 835L601.7 836.3L605.1 825.6L609.8 825.6L614.5 826.9L616.5 821.5L615.1 814.8L611.8 808.1L609.1 804.7L613.8 805.4L620.5 808.8L627.3 811.5L632.7 811.4L636.7 808.7L638.7 804.1L638 797.3L640 791.3L644.8 788.6L651.5 783.9L658.2 777.8L664.9 769.1L669.6 762.7L669.6 761L673 754.6L673.7 745.2L672.3 737.8L667.6 731.7L660.9 728.4L654.2 725.7L648.8 723L644.8 718.9L642.1 714.2L638 709.5L634 705.5L628.6 702.8L627.3 697.4L622.6 694L620.5 690L619.2 683.3L613.8 679.2L608.4 675.2L603.1 671.2L599 670.5L592.3 669.8L585.6 669.2L580.2 671.2L574.8 674.6L570.8 675.2L565.2 677.9L560.3 680.6Z"/>
</g>
<rect x="699.7" y="748.9" width="50.8" height="34.4" fill="#fff" stroke="#b2b2b2" stroke-width="1.2"/>
<line x1="702.7" y1="755.3" x2="728.5" y2="755.3" stroke="#226fa8" stroke-width="1.6"/>
<text transform="translate(730.1 758.7) scale(0.9 1)" text-anchor="start" font-family='"Liberation Serif", serif' font-size="8.6" fill="#000" stroke="#000" stroke-width="0.2">5000</text>
<line x1="702.7" y1="765.8" x2="728.5" y2="765.8" stroke="#a06f55" stroke-width="2.1"/>
<text transform="translate(730.1 769.8) scale(0.9 1)" text-anchor="start" font-family='"Liberation Serif", serif' font-size="8.6" fill="#000" stroke="#000" stroke-width="0.2">5200</text>
<line x1="702.7" y1="776.6" x2="728.5" y2="776.6" stroke="#e6ae38" stroke-width="1.6"/>
<text transform="translate(730.1 779.6) scale(0.9 1)" text-anchor="start" font-family='"Liberation Serif", serif' font-size="8.6" fill="#000" stroke="#000" stroke-width="0.2">5400</text>
</g>
<g>
<g fill="none" stroke="#e6e6e6" stroke-width="0.7">
<circle cx="975.4" cy="765.9" r="22"/>
<circle cx="975.4" cy="765.9" r="44"/>
<circle cx="975.4" cy="765.9" r="66"/>
<circle cx="975.4" cy="765.9" r="88"/>
<circle cx="975.4" cy="765.9" r="110"/>
<line x1="975.4" y1="655.9" x2="975.4" y2="875.9"/>
<line x1="920.4" y1="670.6" x2="1030.4" y2="861.2"/>
<line x1="880.1" y1="710.9" x2="1070.7" y2="820.9"/>
<line x1="865.4" y1="765.9" x2="1085.4" y2="765.9"/>
<line x1="880.1" y1="820.9" x2="1070.7" y2="710.9"/>
<line x1="920.4" y1="861.2" x2="1030.4" y2="670.6"/>
</g>
<text transform="translate(974.8 650.4) scale(0.92 1)" text-anchor="middle" font-family='"Liberation Serif", serif' font-size="9.0" fill="#050505">0</text>
<text transform="translate(912.7 665.8) scale(0.92 1)" text-anchor="middle" font-family='"Liberation Serif", serif' font-size="9.0" fill="#050505">30</text>
<text transform="translate(871.3 707.5) scale(0.92 1)" text-anchor="middle" font-family='"Liberation Serif", serif' font-size="9.0" fill="#050505">60</text>
<text transform="translate(856.2 769.6) scale(0.92 1)" text-anchor="middle" font-family='"Liberation Serif", serif' font-size="9.0" fill="#050505">90</text>
<text transform="translate(869 831.9) scale(0.92 1)" text-anchor="middle" font-family='"Liberation Serif", serif' font-size="9.0" fill="#050505">120</text>
<text transform="translate(909.8 873.7) scale(0.92 1)" text-anchor="middle" font-family='"Liberation Serif", serif' font-size="9.0" fill="#050505">150</text>
<text transform="translate(974.8 888.8) scale(0.92 1)" text-anchor="middle" font-family='"Liberation Serif", serif' font-size="9.0" fill="#050505">180</text>
<text transform="translate(1038 873.7) scale(0.92 1)" text-anchor="middle" font-family='"Liberation Serif", serif' font-size="9.0" fill="#050505">210</text>
<text transform="translate(1080.3 831.9) scale(0.92 1)" text-anchor="middle" font-family='"Liberation Serif", serif' font-size="9.0" fill="#050505">240</text>
<text transform="translate(1095.2 769.6) scale(0.92 1)" text-anchor="middle" font-family='"Liberation Serif", serif' font-size="9.0" fill="#050505">270</text>
<text transform="translate(1080.3 707.5) scale(0.92 1)" text-anchor="middle" font-family='"Liberation Serif", serif' font-size="9.0" fill="#050505">300</text>
<text transform="translate(1038.9 665.8) scale(0.92 1)" text-anchor="middle" font-family='"Liberation Serif", serif' font-size="9.0" fill="#050505">330</text>
<text transform="translate(974.7 769.2) scale(0.92 1)" text-anchor="middle" font-family='"Liberation Serif", serif' font-size="9.0" fill="#050505">-50</text>
<text transform="translate(978.5 747.5) scale(0.92 1)" text-anchor="middle" font-family='"Liberation Serif", serif' font-size="9.0" fill="#050505">-40</text>
<text transform="translate(982.3 725.8) scale(0.92 1)" text-anchor="middle" font-family='"Liberation Serif", serif' font-size="9.0" fill="#050505">-30</text>
<text transform="translate(986.2 704.2) scale(0.92 1)" text-anchor="middle" font-family='"Liberation Serif", serif' font-size="9.0" fill="#050505">-20</text>
<text transform="translate(990 682.5) scale(0.92 1)" text-anchor="middle" font-family='"Liberation Serif", serif' font-size="9.0" fill="#050505">-10</text>
<text transform="translate(993.8 660.8) scale(0.92 1)" text-anchor="middle" font-family='"Liberation Serif", serif' font-size="9.0" fill="#050505">0</text>
<g fill="none" stroke-linejoin="round">
<path stroke="#226fa8" stroke-width="1.7" d="M975.2 675.1L970.3 675.2L965.6 677.2L960.9 675.9L955.5 675.2L948.8 675.9L943.4 677.9L940.7 681.9L938.7 690L937.4 695.4L936 702.1L939.4 710.9L935.3 712.2L931.3 712.9L932 717.6L925.9 712.9L919.2 708.2L912.5 705.5L905.7 703.5L901.7 706.2L899.7 711.5L896.3 714.9L889.6 716.9L882.9 717.6L877.5 720.9L873.4 726.3L871.4 734.4L871.8 742.5L874.8 750.6L880.2 758.6L882.2 761L888.3 766.9L897 774.5L893.6 780.5L891.6 787.2L900.4 789.9L911.1 789.9L907.1 796.6L903 802.7L912.5 800.7L921.9 797.3L931.3 794L929.3 800.7L927.3 807.4L933.3 808.1L935.3 814.8L945.1 808.3L956.2 794L951.5 806.7L946.8 820.2L947.4 823.6L956.2 814.8L954.2 824.2L953.5 833L959.6 838.3L963.6 830.9L971.2 838L975.1 816.1L978.7 826.9L982.8 839L984.8 810.8L991.5 831.6L990.2 820.2L1000.3 834.3L998.3 814.8L1003 820.2L1009 828.3L1016.4 837.7L1015.7 822.2L1021.1 824.2L1026.5 828.3L1031.9 828.9L1029.2 818.9L1023.8 809.4L1017.1 800L1022.5 803.4L1029.2 806.1L1037.3 809.2L1044 810.5L1050.7 808.1L1056.1 803.4L1059.5 797.3L1058.8 790.6L1059.5 783.9L1066.9 777.1L1073.6 770.4L1079.6 764L1079 761L1082.3 755.9L1083 746.5L1081 738.4L1076.3 731.7L1069.5 727L1064.2 723.7L1061.5 718.3L1058.1 712.2L1053.4 708.8L1048 704.8L1047.4 694L1042.6 689.3L1038.6 684.6L1034.6 678.6L1029.2 674.5L1022.5 671.2L1015.7 667.8L1009 666.5L1002.3 663.8L996.9 664.4L991.5 666.5L986.1 667.8L980.8 671.2L975.2 675.1Z"/>
<path stroke="#cb592a" stroke-width="1.7" d="M975.2 669.8L970.3 673.2L965.6 677.2L960.9 676.6L955.5 675.9L950.1 676.6L946.1 681.3L939.4 686L938.7 692.7L934.7 697.4L936 706.2L931.3 702.8L926.6 700.1L921.9 701.4L917.9 702.8L911.1 701.4L903 700.8L898.3 703.5L895 707.5L891.6 711.5L886.9 714.9L880.2 717.6L874.8 722.3L871.4 728.4L870.5 737.1L872.1 745.2L876.1 753.2L881.9 761.2L888.2 767.1L886.9 768L889.6 775.8L893 783.2L901.7 787.9L910.4 791.3L906.4 798L903.7 806.1L913.8 804.1L921.9 801.4L929.9 798.7L926.6 805.4L920.5 815.5L923.2 817.5L930 813.5L934.7 811.5L933.3 817.5L930.6 826.3L938 820.9L944.8 818.2L945.4 824.9L952.8 823.5L956.9 817.5L959.5 818.2L960.9 830.3L966.3 825.6L971 824.9L973.9 828.6L978.1 831L983.5 833.6L986.8 841.7L989.5 819.5L995.6 831L998.9 814.1L1003 818.2L1008.3 823.6L1013.1 824.2L1013 817.5L1016.4 816.2L1023.1 818.2L1029.2 819.5L1027.2 814.1L1022.5 808.1L1017.1 800L1021.8 802.7L1027.8 804.7L1034.6 806.7L1041.3 808.1L1048 807.4L1051.4 805.4L1050.7 799.3L1046 793.3L1047.4 788.6L1053.4 786.6L1060.1 781.2L1066.9 775.1L1073.6 769.1L1077.6 764.7L1079.6 761L1080.6 757.3L1081.7 749.2L1080.6 741.1L1077.6 734.4L1072.2 729L1066.2 725L1064.8 719.6L1063.5 713.6L1060.1 708.2L1056.1 704.1L1054.1 698.1L1050.7 690.7L1045.3 685.3L1040 679.9L1034.6 674.5L1027.8 670.5L1021.1 666.1L1015.7 663.8L1009 662L1002.3 659.7L996.9 660.2L991.5 660.7L986.1 661.8L980.8 664.4L975.2 669.8Z"/>
</g>
<rect x="1110.1" y="754.2" width="50.8" height="24.1" fill="#fff" stroke="#b2b2b2" stroke-width="1.2"/>
<line x1="1113.1" y1="760.8" x2="1138.9" y2="760.8" stroke="#226fa8" stroke-width="1.6"/>
<text transform="translate(1140.5 764.3) scale(0.9 1)" text-anchor="start" font-family='"Liberation Serif", serif' font-size="8.6" fill="#000" stroke="#000" stroke-width="0.2">5600</text>
<line x1="1113.1" y1="771.5" x2="1138.9" y2="771.5" stroke="#cb592a" stroke-width="1.6"/>
<text transform="translate(1140.5 775) scale(0.9 1)" text-anchor="start" font-family='"Liberation Serif", serif' font-size="8.6" fill="#000" stroke="#000" stroke-width="0.2">5800</text>
</g>
</svg></div></body></html>
